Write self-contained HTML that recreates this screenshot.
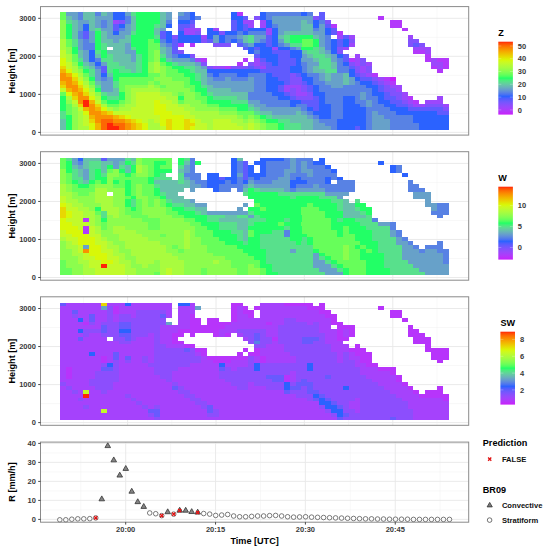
<!DOCTYPE html>
<html><head><meta charset="utf-8"><title>Figure</title>
<style>
html,body{margin:0;padding:0;background:#fff}
svg{display:block}
text{font-family:"Liberation Sans",Arial,sans-serif;font-weight:bold}
.tk{font-size:7.5px;fill:#3a3a3a}
.ti{font-size:9.1px;fill:#000}
.lg{font-size:7.6px;fill:#111}
</style></head><body>
<svg width="547" height="550" viewBox="0 0 547 550">
<rect width="547" height="550" fill="#fff"/>
<g>
<line x1="40.5" x2="468.7" y1="113.39" y2="113.39" stroke="#f0f0f0" stroke-width="0.5"/>
<line x1="40.5" x2="468.7" y1="75.36" y2="75.36" stroke="#f0f0f0" stroke-width="0.5"/>
<line x1="40.5" x2="468.7" y1="37.33" y2="37.33" stroke="#f0f0f0" stroke-width="0.5"/>
<line x1="83.40" x2="83.40" y1="6.6" y2="135.1" stroke="#f0f0f0" stroke-width="0.5"/>
<line x1="171.80" x2="171.80" y1="6.6" y2="135.1" stroke="#f0f0f0" stroke-width="0.5"/>
<line x1="260.20" x2="260.20" y1="6.6" y2="135.1" stroke="#f0f0f0" stroke-width="0.5"/>
<line x1="348.60" x2="348.60" y1="6.6" y2="135.1" stroke="#f0f0f0" stroke-width="0.5"/>
<line x1="437.00" x2="437.00" y1="6.6" y2="135.1" stroke="#f0f0f0" stroke-width="0.5"/>
<line x1="40.5" x2="468.7" y1="132.40" y2="132.40" stroke="#e8e8e8" stroke-width="0.9"/>
<line x1="40.5" x2="468.7" y1="94.37" y2="94.37" stroke="#e8e8e8" stroke-width="0.9"/>
<line x1="40.5" x2="468.7" y1="56.34" y2="56.34" stroke="#e8e8e8" stroke-width="0.9"/>
<line x1="40.5" x2="468.7" y1="18.31" y2="18.31" stroke="#e8e8e8" stroke-width="0.9"/>
<line x1="127.60" x2="127.60" y1="6.6" y2="135.1" stroke="#e8e8e8" stroke-width="0.9"/>
<line x1="216.00" x2="216.00" y1="6.6" y2="135.1" stroke="#e8e8e8" stroke-width="0.9"/>
<line x1="304.40" x2="304.40" y1="6.6" y2="135.1" stroke="#e8e8e8" stroke-width="0.9"/>
<line x1="392.80" x2="392.80" y1="6.6" y2="135.1" stroke="#e8e8e8" stroke-width="0.9"/>
<g shape-rendering="crispEdges"><path fill="#67fe5a" d="M59.84 12.40h5.89v3.85h-5.89zM59.84 16.20h5.89v3.85h-5.89zM65.73 39.00h5.89v3.85h-5.89zM148.25 39.00h5.89v3.85h-5.89zM301.49 39.00h11.79v3.85h-11.79zM65.73 42.80h5.89v3.85h-5.89zM148.25 42.80h11.79v3.85h-11.79zM301.49 42.80h11.79v3.85h-11.79zM148.25 46.60h11.79v3.85h-11.79zM148.25 50.40h5.89v3.85h-5.89zM71.63 54.20h5.89v3.85h-5.89zM148.25 54.20h5.89v3.85h-5.89zM71.63 58.00h5.89v3.85h-5.89zM148.25 58.00h5.89v3.85h-5.89zM160.04 61.80h5.89v3.85h-5.89zM77.52 65.60h5.89v3.85h-5.89zM165.93 65.60h5.89v3.85h-5.89zM165.93 69.40h11.79v3.85h-11.79zM83.42 73.20h5.89v3.85h-5.89zM148.25 73.20h11.79v3.85h-11.79zM165.93 73.20h17.68v3.85h-17.68zM118.78 77.00h35.36v3.85h-35.36zM171.83 77.00h17.68v3.85h-17.68zM89.31 80.80h5.89v3.85h-5.89zM118.78 80.80h29.47v3.85h-29.47zM154.14 80.80h5.89v3.85h-5.89zM183.61 80.80h5.89v3.85h-5.89zM118.78 84.60h5.89v3.85h-5.89zM160.04 84.60h5.89v3.85h-5.89zM183.61 84.60h11.79v3.85h-11.79zM118.78 88.40h5.89v3.85h-5.89zM189.51 88.40h5.89v3.85h-5.89zM59.84 92.20h5.89v3.85h-5.89zM177.72 92.20h5.89v3.85h-5.89zM195.40 92.20h5.89v3.85h-5.89zM195.40 96.00h11.79v3.85h-11.79zM101.10 99.80h5.89v3.85h-5.89zM118.78 99.80h5.89v3.85h-5.89zM177.72 99.80h5.89v3.85h-5.89zM201.30 99.80h5.89v3.85h-5.89zM65.73 103.60h5.89v3.85h-5.89zM106.99 103.60h11.79v3.85h-11.79zM207.19 103.60h11.79v3.85h-11.79zM65.73 107.40h5.89v3.85h-5.89zM218.98 107.40h17.68v3.85h-17.68zM65.73 111.20h5.89v3.85h-5.89zM236.66 111.20h17.68v3.85h-17.68zM242.55 115.00h5.89v3.85h-5.89zM254.34 115.00h5.89v3.85h-5.89zM260.24 118.80h5.89v3.85h-5.89zM266.13 122.60h11.79v3.85h-11.79zM266.13 126.40h11.79v3.85h-11.79z"/>
<path fill="#67a1c9" d="M65.73 12.40h11.79v3.85h-11.79zM106.99 12.40h5.89v3.85h-5.89zM124.67 12.40h5.89v3.85h-5.89zM165.93 12.40h5.89v3.85h-5.89zM177.72 12.40h5.89v3.85h-5.89zM71.63 16.20h5.89v3.85h-5.89zM95.20 16.20h17.68v3.85h-17.68zM165.93 16.20h5.89v3.85h-5.89zM272.02 16.20h41.26v3.85h-41.26zM77.52 20.00h11.79v3.85h-11.79zM95.20 20.00h5.89v3.85h-5.89zM106.99 20.00h5.89v3.85h-5.89zM272.02 20.00h29.47v3.85h-29.47zM307.39 20.00h5.89v3.85h-5.89zM77.52 23.80h5.89v3.85h-5.89zM95.20 23.80h5.89v3.85h-5.89zM106.99 23.80h5.89v3.85h-5.89zM124.67 23.80h5.89v3.85h-5.89zM277.92 23.80h23.58v3.85h-23.58zM319.18 23.80h5.89v3.85h-5.89zM77.52 27.60h5.89v3.85h-5.89zM101.10 27.60h11.79v3.85h-11.79zM124.67 27.60h5.89v3.85h-5.89zM160.04 27.60h5.89v3.85h-5.89zM277.92 27.60h23.58v3.85h-23.58zM319.18 27.60h5.89v3.85h-5.89zM89.31 31.40h5.89v3.85h-5.89zM106.99 31.40h5.89v3.85h-5.89zM118.78 31.40h11.79v3.85h-11.79zM277.92 31.40h5.89v3.85h-5.89zM313.28 31.40h11.79v3.85h-11.79zM89.31 35.20h5.89v3.85h-5.89zM106.99 35.20h17.68v3.85h-17.68zM213.08 35.20h5.89v3.85h-5.89zM236.66 35.20h5.89v3.85h-5.89zM254.34 35.20h11.79v3.85h-11.79zM319.18 35.20h5.89v3.85h-5.89zM77.52 39.00h5.89v3.85h-5.89zM89.31 39.00h5.89v3.85h-5.89zM112.89 39.00h5.89v3.85h-5.89zM213.08 39.00h5.89v3.85h-5.89zM254.34 39.00h5.89v3.85h-5.89zM277.92 39.00h5.89v3.85h-5.89zM319.18 39.00h5.89v3.85h-5.89zM77.52 42.80h5.89v3.85h-5.89zM124.67 42.80h5.89v3.85h-5.89zM160.04 42.80h5.89v3.85h-5.89zM248.45 42.80h5.89v3.85h-5.89zM283.81 42.80h5.89v3.85h-5.89zM319.18 42.80h5.89v3.85h-5.89zM77.52 46.60h5.89v3.85h-5.89zM124.67 46.60h5.89v3.85h-5.89zM165.93 46.60h5.89v3.85h-5.89zM295.60 46.60h5.89v3.85h-5.89zM83.42 50.40h5.89v3.85h-5.89zM124.67 50.40h11.79v3.85h-11.79zM165.93 50.40h5.89v3.85h-5.89zM325.07 50.40h5.89v3.85h-5.89zM83.42 54.20h5.89v3.85h-5.89zM130.57 54.20h5.89v3.85h-5.89zM165.93 54.20h5.89v3.85h-5.89zM301.49 54.20h5.89v3.85h-5.89zM330.96 54.20h5.89v3.85h-5.89zM83.42 58.00h5.89v3.85h-5.89zM130.57 58.00h5.89v3.85h-5.89zM171.83 58.00h17.68v3.85h-17.68zM301.49 58.00h11.79v3.85h-11.79zM330.96 58.00h5.89v3.85h-5.89zM89.31 61.80h5.89v3.85h-5.89zM101.10 61.80h5.89v3.85h-5.89zM195.40 61.80h5.89v3.85h-5.89zM307.39 61.80h11.79v3.85h-11.79zM201.30 65.60h5.89v3.85h-5.89zM307.39 65.60h5.89v3.85h-5.89zM95.20 69.40h5.89v3.85h-5.89zM307.39 69.40h5.89v3.85h-5.89zM95.20 73.20h5.89v3.85h-5.89zM319.18 73.20h5.89v3.85h-5.89zM330.96 73.20h11.79v3.85h-11.79zM95.20 77.00h5.89v3.85h-5.89zM106.99 77.00h5.89v3.85h-5.89zM207.19 77.00h5.89v3.85h-5.89zM224.87 77.00h5.89v3.85h-5.89zM248.45 77.00h5.89v3.85h-5.89zM319.18 77.00h5.89v3.85h-5.89zM330.96 77.00h11.79v3.85h-11.79zM348.65 77.00h5.89v3.85h-5.89zM101.10 80.80h11.79v3.85h-11.79zM207.19 80.80h47.15v3.85h-47.15zM325.07 80.80h17.68v3.85h-17.68zM348.65 80.80h5.89v3.85h-5.89zM101.10 84.60h11.79v3.85h-11.79zM213.08 84.60h41.26v3.85h-41.26zM330.96 84.60h11.79v3.85h-11.79zM101.10 88.40h11.79v3.85h-11.79zM230.77 88.40h23.58v3.85h-23.58zM360.43 92.20h5.89v3.85h-5.89zM360.43 96.00h5.89v3.85h-5.89zM248.45 99.80h11.79v3.85h-11.79zM366.33 99.80h5.89v3.85h-5.89zM254.34 103.60h11.79v3.85h-11.79zM366.33 103.60h5.89v3.85h-5.89zM260.24 107.40h41.26v3.85h-41.26zM272.02 111.20h23.58v3.85h-23.58zM301.49 111.20h5.89v3.85h-5.89zM372.22 111.20h5.89v3.85h-5.89zM307.39 115.00h5.89v3.85h-5.89zM372.22 115.00h11.79v3.85h-11.79zM313.28 118.80h5.89v3.85h-5.89zM372.22 118.80h17.68v3.85h-17.68zM313.28 122.60h11.79v3.85h-11.79zM372.22 122.60h17.68v3.85h-17.68zM313.28 126.40h17.68v3.85h-17.68zM372.22 126.40h17.68v3.85h-17.68z"/>
<path fill="#5882e4" d="M77.52 12.40h5.89v3.85h-5.89zM95.20 12.40h5.89v3.85h-5.89zM183.61 12.40h5.89v3.85h-5.89zM266.13 12.40h35.36v3.85h-35.36zM307.39 12.40h5.89v3.85h-5.89zM77.52 16.20h5.89v3.85h-5.89zM124.67 16.20h5.89v3.85h-5.89zM177.72 16.20h11.79v3.85h-11.79zM195.40 16.20h5.89v3.85h-5.89zM266.13 16.20h5.89v3.85h-5.89zM101.10 20.00h5.89v3.85h-5.89zM124.67 20.00h5.89v3.85h-5.89zM165.93 20.00h5.89v3.85h-5.89zM319.18 20.00h5.89v3.85h-5.89zM101.10 23.80h5.89v3.85h-5.89zM272.02 23.80h5.89v3.85h-5.89zM118.78 27.60h5.89v3.85h-5.89zM313.28 27.60h5.89v3.85h-5.89zM77.52 31.40h5.89v3.85h-5.89zM236.66 31.40h5.89v3.85h-5.89zM248.45 31.40h17.68v3.85h-17.68zM77.52 35.20h5.89v3.85h-5.89zM224.87 35.20h11.79v3.85h-11.79zM325.07 35.20h5.89v3.85h-5.89zM83.42 39.00h5.89v3.85h-5.89zM160.04 39.00h5.89v3.85h-5.89zM224.87 39.00h5.89v3.85h-5.89zM236.66 39.00h5.89v3.85h-5.89zM260.24 39.00h5.89v3.85h-5.89zM325.07 39.00h5.89v3.85h-5.89zM83.42 42.80h11.79v3.85h-11.79zM165.93 42.80h5.89v3.85h-5.89zM242.55 42.80h5.89v3.85h-5.89zM277.92 42.80h5.89v3.85h-5.89zM325.07 42.80h5.89v3.85h-5.89zM83.42 46.60h11.79v3.85h-11.79zM289.71 46.60h5.89v3.85h-5.89zM325.07 46.60h5.89v3.85h-5.89zM254.34 50.40h5.89v3.85h-5.89zM171.83 54.20h5.89v3.85h-5.89zM95.20 58.00h5.89v3.85h-5.89zM189.51 58.00h5.89v3.85h-5.89zM336.86 58.00h5.89v3.85h-5.89zM301.49 61.80h5.89v3.85h-5.89zM336.86 61.80h5.89v3.85h-5.89zM95.20 65.60h5.89v3.85h-5.89zM301.49 65.60h5.89v3.85h-5.89zM336.86 65.60h11.79v3.85h-11.79zM301.49 69.40h5.89v3.85h-5.89zM336.86 69.40h11.79v3.85h-11.79zM207.19 73.20h5.89v3.85h-5.89zM218.98 73.20h17.68v3.85h-17.68zM248.45 73.20h17.68v3.85h-17.68zM307.39 73.20h11.79v3.85h-11.79zM101.10 77.00h5.89v3.85h-5.89zM213.08 77.00h11.79v3.85h-11.79zM230.77 77.00h17.68v3.85h-17.68zM254.34 77.00h11.79v3.85h-11.79zM313.28 77.00h5.89v3.85h-5.89zM254.34 80.80h11.79v3.85h-11.79zM313.28 80.80h11.79v3.85h-11.79zM354.54 80.80h5.89v3.85h-5.89zM254.34 84.60h11.79v3.85h-11.79zM319.18 84.60h11.79v3.85h-11.79zM342.75 84.60h23.58v3.85h-23.58zM254.34 88.40h11.79v3.85h-11.79zM319.18 88.40h53.05v3.85h-53.05zM248.45 92.20h23.58v3.85h-23.58zM325.07 92.20h35.36v3.85h-35.36zM366.33 92.20h5.89v3.85h-5.89zM248.45 96.00h29.47v3.85h-29.47zM325.07 96.00h17.68v3.85h-17.68zM354.54 96.00h5.89v3.85h-5.89zM366.33 96.00h11.79v3.85h-11.79zM260.24 99.80h29.47v3.85h-29.47zM325.07 99.80h17.68v3.85h-17.68zM354.54 99.80h11.79v3.85h-11.79zM372.22 99.80h5.89v3.85h-5.89zM266.13 103.60h23.58v3.85h-23.58zM295.60 103.60h11.79v3.85h-11.79zM330.96 103.60h11.79v3.85h-11.79zM360.43 103.60h5.89v3.85h-5.89zM372.22 103.60h11.79v3.85h-11.79zM301.49 107.40h5.89v3.85h-5.89zM330.96 107.40h11.79v3.85h-11.79zM366.33 107.40h23.58v3.85h-23.58zM307.39 111.20h5.89v3.85h-5.89zM330.96 111.20h11.79v3.85h-11.79zM366.33 111.20h5.89v3.85h-5.89zM378.12 111.20h17.68v3.85h-17.68zM313.28 115.00h5.89v3.85h-5.89zM330.96 115.00h11.79v3.85h-11.79zM366.33 115.00h5.89v3.85h-5.89zM384.01 115.00h29.47v3.85h-29.47zM319.18 118.80h17.68v3.85h-17.68zM366.33 118.80h5.89v3.85h-5.89zM389.90 118.80h23.58v3.85h-23.58zM325.07 122.60h11.79v3.85h-11.79zM366.33 122.60h5.89v3.85h-5.89zM389.90 122.60h29.47v3.85h-29.47zM330.96 126.40h5.89v3.85h-5.89zM366.33 126.40h5.89v3.85h-5.89zM389.90 126.40h29.47v3.85h-29.47z"/>
<path fill="#68c0ac" d="M83.42 12.40h11.79v3.85h-11.79zM101.10 12.40h5.89v3.85h-5.89zM160.04 12.40h5.89v3.85h-5.89zM65.73 16.20h5.89v3.85h-5.89zM83.42 16.20h11.79v3.85h-11.79zM130.57 16.20h5.89v3.85h-5.89zM160.04 16.20h5.89v3.85h-5.89zM71.63 20.00h5.89v3.85h-5.89zM89.31 20.00h5.89v3.85h-5.89zM130.57 20.00h5.89v3.85h-5.89zM160.04 20.00h5.89v3.85h-5.89zM301.49 20.00h5.89v3.85h-5.89zM71.63 23.80h5.89v3.85h-5.89zM89.31 23.80h5.89v3.85h-5.89zM130.57 23.80h5.89v3.85h-5.89zM160.04 23.80h5.89v3.85h-5.89zM301.49 23.80h11.79v3.85h-11.79zM71.63 27.60h5.89v3.85h-5.89zM89.31 27.60h5.89v3.85h-5.89zM130.57 27.60h5.89v3.85h-5.89zM154.14 27.60h5.89v3.85h-5.89zM301.49 27.60h11.79v3.85h-11.79zM71.63 31.40h5.89v3.85h-5.89zM101.10 31.40h5.89v3.85h-5.89zM154.14 31.40h5.89v3.85h-5.89zM283.81 31.40h29.47v3.85h-29.47zM71.63 35.20h5.89v3.85h-5.89zM101.10 35.20h5.89v3.85h-5.89zM124.67 35.20h5.89v3.85h-5.89zM242.55 35.20h5.89v3.85h-5.89zM277.92 35.20h5.89v3.85h-5.89zM313.28 35.20h5.89v3.85h-5.89zM101.10 39.00h11.79v3.85h-11.79zM118.78 39.00h11.79v3.85h-11.79zM242.55 39.00h5.89v3.85h-5.89zM106.99 42.80h17.68v3.85h-17.68zM112.89 46.60h11.79v3.85h-11.79zM160.04 46.60h5.89v3.85h-5.89zM319.18 46.60h5.89v3.85h-5.89zM77.52 50.40h5.89v3.85h-5.89zM106.99 50.40h17.68v3.85h-17.68zM160.04 50.40h5.89v3.85h-5.89zM301.49 50.40h5.89v3.85h-5.89zM319.18 50.40h5.89v3.85h-5.89zM77.52 54.20h5.89v3.85h-5.89zM95.20 54.20h5.89v3.85h-5.89zM112.89 54.20h17.68v3.85h-17.68zM307.39 54.20h5.89v3.85h-5.89zM325.07 54.20h5.89v3.85h-5.89zM112.89 58.00h17.68v3.85h-17.68zM165.93 58.00h5.89v3.85h-5.89zM313.28 58.00h5.89v3.85h-5.89zM83.42 61.80h5.89v3.85h-5.89zM118.78 61.80h17.68v3.85h-17.68zM177.72 61.80h17.68v3.85h-17.68zM330.96 61.80h5.89v3.85h-5.89zM89.31 65.60h5.89v3.85h-5.89zM124.67 65.60h11.79v3.85h-11.79zM195.40 65.60h5.89v3.85h-5.89zM313.28 65.60h5.89v3.85h-5.89zM330.96 65.60h5.89v3.85h-5.89zM130.57 69.40h5.89v3.85h-5.89zM195.40 69.40h11.79v3.85h-11.79zM313.28 69.40h11.79v3.85h-11.79zM106.99 73.20h5.89v3.85h-5.89zM201.30 73.20h5.89v3.85h-5.89zM325.07 73.20h5.89v3.85h-5.89zM342.75 73.20h5.89v3.85h-5.89zM201.30 77.00h5.89v3.85h-5.89zM325.07 77.00h5.89v3.85h-5.89zM342.75 77.00h5.89v3.85h-5.89zM95.20 80.80h5.89v3.85h-5.89zM201.30 80.80h5.89v3.85h-5.89zM342.75 80.80h5.89v3.85h-5.89zM207.19 84.60h5.89v3.85h-5.89zM112.89 88.40h5.89v3.85h-5.89zM207.19 88.40h23.58v3.85h-23.58zM106.99 92.20h11.79v3.85h-11.79zM213.08 92.20h35.36v3.85h-35.36zM236.66 96.00h11.79v3.85h-11.79zM248.45 103.60h5.89v3.85h-5.89zM254.34 107.40h5.89v3.85h-5.89zM260.24 111.20h11.79v3.85h-11.79zM295.60 111.20h5.89v3.85h-5.89zM272.02 115.00h35.36v3.85h-35.36zM59.84 118.80h5.89v3.85h-5.89zM289.71 118.80h23.58v3.85h-23.58zM59.84 122.60h5.89v3.85h-5.89zM301.49 122.60h11.79v3.85h-11.79zM59.84 126.40h5.89v3.85h-5.89zM301.49 126.40h11.79v3.85h-11.79z"/>
<path fill="#2b62ff" d="M112.89 12.40h11.79v3.85h-11.79zM189.51 12.40h5.89v3.85h-5.89zM230.77 12.40h5.89v3.85h-5.89zM260.24 12.40h5.89v3.85h-5.89zM301.49 12.40h5.89v3.85h-5.89zM112.89 16.20h11.79v3.85h-11.79zM189.51 16.20h5.89v3.85h-5.89zM230.77 16.20h11.79v3.85h-11.79zM260.24 16.20h5.89v3.85h-5.89zM177.72 20.00h11.79v3.85h-11.79zM236.66 20.00h5.89v3.85h-5.89zM266.13 20.00h5.89v3.85h-5.89zM313.28 20.00h5.89v3.85h-5.89zM83.42 23.80h5.89v3.85h-5.89zM118.78 23.80h5.89v3.85h-5.89zM165.93 23.80h5.89v3.85h-5.89zM236.66 23.80h5.89v3.85h-5.89zM266.13 23.80h5.89v3.85h-5.89zM313.28 23.80h5.89v3.85h-5.89zM83.42 27.60h5.89v3.85h-5.89zM207.19 27.60h5.89v3.85h-5.89zM236.66 27.60h5.89v3.85h-5.89zM248.45 27.60h17.68v3.85h-17.68zM272.02 27.60h5.89v3.85h-5.89zM325.07 27.60h5.89v3.85h-5.89zM112.89 31.40h5.89v3.85h-5.89zM165.93 31.40h5.89v3.85h-5.89zM177.72 31.40h5.89v3.85h-5.89zM207.19 31.40h11.79v3.85h-11.79zM224.87 31.40h11.79v3.85h-11.79zM242.55 31.40h5.89v3.85h-5.89zM272.02 31.40h5.89v3.85h-5.89zM325.07 31.40h5.89v3.85h-5.89zM165.93 35.20h5.89v3.85h-5.89zM177.72 35.20h23.58v3.85h-23.58zM207.19 35.20h5.89v3.85h-5.89zM218.98 35.20h5.89v3.85h-5.89zM272.02 35.20h5.89v3.85h-5.89zM165.93 39.00h5.89v3.85h-5.89zM177.72 39.00h23.58v3.85h-23.58zM218.98 39.00h5.89v3.85h-5.89zM230.77 39.00h5.89v3.85h-5.89zM272.02 39.00h5.89v3.85h-5.89zM330.96 39.00h5.89v3.85h-5.89zM342.75 39.00h5.89v3.85h-5.89zM254.34 42.80h11.79v3.85h-11.79zM272.02 42.80h5.89v3.85h-5.89zM330.96 42.80h5.89v3.85h-5.89zM342.75 42.80h5.89v3.85h-5.89zM248.45 46.60h5.89v3.85h-5.89zM260.24 46.60h11.79v3.85h-11.79zM277.92 46.60h11.79v3.85h-11.79zM330.96 46.60h5.89v3.85h-5.89zM89.31 50.40h5.89v3.85h-5.89zM248.45 50.40h5.89v3.85h-5.89zM260.24 50.40h11.79v3.85h-11.79zM289.71 50.40h11.79v3.85h-11.79zM330.96 50.40h5.89v3.85h-5.89zM89.31 54.20h5.89v3.85h-5.89zM177.72 54.20h11.79v3.85h-11.79zM260.24 54.20h17.68v3.85h-17.68zM289.71 54.20h11.79v3.85h-11.79zM336.86 54.20h5.89v3.85h-5.89zM89.31 58.00h5.89v3.85h-5.89zM266.13 58.00h11.79v3.85h-11.79zM295.60 58.00h5.89v3.85h-5.89zM95.20 61.80h5.89v3.85h-5.89zM272.02 61.80h5.89v3.85h-5.89zM295.60 61.80h5.89v3.85h-5.89zM342.75 61.80h5.89v3.85h-5.89zM289.71 65.60h11.79v3.85h-11.79zM207.19 69.40h53.05v3.85h-53.05zM289.71 69.40h11.79v3.85h-11.79zM348.65 69.40h5.89v3.85h-5.89zM101.10 73.20h5.89v3.85h-5.89zM213.08 73.20h5.89v3.85h-5.89zM236.66 73.20h11.79v3.85h-11.79zM266.13 73.20h5.89v3.85h-5.89zM301.49 73.20h5.89v3.85h-5.89zM348.65 73.20h5.89v3.85h-5.89zM266.13 77.00h11.79v3.85h-11.79zM301.49 77.00h11.79v3.85h-11.79zM354.54 77.00h5.89v3.85h-5.89zM266.13 80.80h17.68v3.85h-17.68zM307.39 80.80h5.89v3.85h-5.89zM360.43 80.80h11.79v3.85h-11.79zM266.13 84.60h11.79v3.85h-11.79zM313.28 84.60h5.89v3.85h-5.89zM366.33 84.60h11.79v3.85h-11.79zM266.13 88.40h11.79v3.85h-11.79zM313.28 88.40h5.89v3.85h-5.89zM372.22 88.40h5.89v3.85h-5.89zM272.02 92.20h11.79v3.85h-11.79zM313.28 92.20h11.79v3.85h-11.79zM372.22 92.20h11.79v3.85h-11.79zM277.92 96.00h11.79v3.85h-11.79zM319.18 96.00h5.89v3.85h-5.89zM342.75 96.00h11.79v3.85h-11.79zM378.12 96.00h5.89v3.85h-5.89zM289.71 99.80h11.79v3.85h-11.79zM319.18 99.80h5.89v3.85h-5.89zM342.75 99.80h11.79v3.85h-11.79zM378.12 99.80h11.79v3.85h-11.79zM289.71 103.60h5.89v3.85h-5.89zM319.18 103.60h11.79v3.85h-11.79zM342.75 103.60h17.68v3.85h-17.68zM384.01 103.60h11.79v3.85h-11.79zM307.39 107.40h5.89v3.85h-5.89zM319.18 107.40h11.79v3.85h-11.79zM342.75 107.40h23.58v3.85h-23.58zM389.90 107.40h17.68v3.85h-17.68zM313.28 111.20h17.68v3.85h-17.68zM342.75 111.20h23.58v3.85h-23.58zM395.80 111.20h41.26v3.85h-41.26zM319.18 115.00h11.79v3.85h-11.79zM342.75 115.00h23.58v3.85h-23.58zM413.48 115.00h35.36v3.85h-35.36zM336.86 118.80h29.47v3.85h-29.47zM413.48 118.80h35.36v3.85h-35.36zM336.86 122.60h29.47v3.85h-29.47zM419.37 122.60h29.47v3.85h-29.47zM336.86 126.40h17.68v3.85h-17.68zM360.43 126.40h5.89v3.85h-5.89zM419.37 126.40h29.47v3.85h-29.47z"/>
<path fill="#58e08c" d="M130.57 12.40h5.89v3.85h-5.89zM65.73 20.00h5.89v3.85h-5.89zM154.14 23.80h5.89v3.85h-5.89zM95.20 27.60h5.89v3.85h-5.89zM130.57 31.40h5.89v3.85h-5.89zM154.14 35.20h5.89v3.85h-5.89zM248.45 35.20h5.89v3.85h-5.89zM283.81 35.20h5.89v3.85h-5.89zM71.63 39.00h5.89v3.85h-5.89zM248.45 39.00h5.89v3.85h-5.89zM283.81 39.00h5.89v3.85h-5.89zM71.63 42.80h5.89v3.85h-5.89zM101.10 42.80h5.89v3.85h-5.89zM289.71 42.80h11.79v3.85h-11.79zM101.10 46.60h5.89v3.85h-5.89zM130.57 46.60h5.89v3.85h-5.89zM313.28 46.60h5.89v3.85h-5.89zM95.20 50.40h5.89v3.85h-5.89zM307.39 50.40h11.79v3.85h-11.79zM106.99 54.20h5.89v3.85h-5.89zM136.46 54.20h5.89v3.85h-5.89zM160.04 54.20h5.89v3.85h-5.89zM313.28 54.20h11.79v3.85h-11.79zM77.52 58.00h5.89v3.85h-5.89zM101.10 58.00h11.79v3.85h-11.79zM136.46 58.00h5.89v3.85h-5.89zM319.18 58.00h11.79v3.85h-11.79zM106.99 61.80h11.79v3.85h-11.79zM136.46 61.80h5.89v3.85h-5.89zM171.83 61.80h5.89v3.85h-5.89zM319.18 61.80h11.79v3.85h-11.79zM83.42 65.60h5.89v3.85h-5.89zM106.99 65.60h17.68v3.85h-17.68zM136.46 65.60h5.89v3.85h-5.89zM183.61 65.60h11.79v3.85h-11.79zM319.18 65.60h11.79v3.85h-11.79zM89.31 69.40h5.89v3.85h-5.89zM106.99 69.40h5.89v3.85h-5.89zM118.78 69.40h11.79v3.85h-11.79zM136.46 69.40h5.89v3.85h-5.89zM189.51 69.40h5.89v3.85h-5.89zM325.07 69.40h11.79v3.85h-11.79zM89.31 73.20h5.89v3.85h-5.89zM195.40 73.20h5.89v3.85h-5.89zM195.40 77.00h5.89v3.85h-5.89zM112.89 80.80h5.89v3.85h-5.89zM95.20 84.60h5.89v3.85h-5.89zM112.89 84.60h5.89v3.85h-5.89zM201.30 84.60h5.89v3.85h-5.89zM101.10 92.20h5.89v3.85h-5.89zM207.19 92.20h5.89v3.85h-5.89zM106.99 96.00h11.79v3.85h-11.79zM213.08 96.00h23.58v3.85h-23.58zM230.77 99.80h17.68v3.85h-17.68zM248.45 107.40h5.89v3.85h-5.89zM59.84 111.20h5.89v3.85h-5.89zM254.34 111.20h5.89v3.85h-5.89zM59.84 115.00h5.89v3.85h-5.89zM266.13 115.00h5.89v3.85h-5.89zM277.92 118.80h11.79v3.85h-11.79zM283.81 122.60h17.68v3.85h-17.68zM283.81 126.40h17.68v3.85h-17.68z"/>
<path fill="#22ff66" d="M136.46 12.40h23.58v3.85h-23.58zM136.46 16.20h23.58v3.85h-23.58zM136.46 20.00h23.58v3.85h-23.58zM65.73 23.80h5.89v3.85h-5.89zM136.46 23.80h17.68v3.85h-17.68zM65.73 27.60h5.89v3.85h-5.89zM136.46 27.60h17.68v3.85h-17.68zM65.73 31.40h5.89v3.85h-5.89zM95.20 31.40h5.89v3.85h-5.89zM136.46 31.40h17.68v3.85h-17.68zM65.73 35.20h5.89v3.85h-5.89zM95.20 35.20h5.89v3.85h-5.89zM130.57 35.20h23.58v3.85h-23.58zM289.71 35.20h23.58v3.85h-23.58zM95.20 39.00h5.89v3.85h-5.89zM130.57 39.00h17.68v3.85h-17.68zM154.14 39.00h5.89v3.85h-5.89zM289.71 39.00h11.79v3.85h-11.79zM313.28 39.00h5.89v3.85h-5.89zM95.20 42.80h5.89v3.85h-5.89zM130.57 42.80h17.68v3.85h-17.68zM313.28 42.80h5.89v3.85h-5.89zM71.63 46.60h5.89v3.85h-5.89zM95.20 46.60h5.89v3.85h-5.89zM136.46 46.60h11.79v3.85h-11.79zM301.49 46.60h11.79v3.85h-11.79zM71.63 50.40h5.89v3.85h-5.89zM101.10 50.40h5.89v3.85h-5.89zM136.46 50.40h11.79v3.85h-11.79zM101.10 54.20h5.89v3.85h-5.89zM142.36 54.20h5.89v3.85h-5.89zM142.36 58.00h5.89v3.85h-5.89zM160.04 58.00h5.89v3.85h-5.89zM77.52 61.80h5.89v3.85h-5.89zM142.36 61.80h5.89v3.85h-5.89zM165.93 61.80h5.89v3.85h-5.89zM142.36 65.60h5.89v3.85h-5.89zM171.83 65.60h11.79v3.85h-11.79zM83.42 69.40h5.89v3.85h-5.89zM112.89 69.40h5.89v3.85h-5.89zM142.36 69.40h5.89v3.85h-5.89zM177.72 69.40h11.79v3.85h-11.79zM112.89 73.20h35.36v3.85h-35.36zM183.61 73.20h11.79v3.85h-11.79zM89.31 77.00h5.89v3.85h-5.89zM112.89 77.00h5.89v3.85h-5.89zM189.51 77.00h5.89v3.85h-5.89zM189.51 80.80h11.79v3.85h-11.79zM195.40 84.60h5.89v3.85h-5.89zM95.20 88.40h5.89v3.85h-5.89zM195.40 88.40h11.79v3.85h-11.79zM118.78 92.20h5.89v3.85h-5.89zM201.30 92.20h5.89v3.85h-5.89zM59.84 96.00h5.89v3.85h-5.89zM101.10 96.00h5.89v3.85h-5.89zM118.78 96.00h5.89v3.85h-5.89zM177.72 96.00h5.89v3.85h-5.89zM207.19 96.00h5.89v3.85h-5.89zM59.84 99.80h5.89v3.85h-5.89zM106.99 99.80h11.79v3.85h-11.79zM207.19 99.80h23.58v3.85h-23.58zM59.84 103.60h5.89v3.85h-5.89zM218.98 103.60h29.47v3.85h-29.47zM59.84 107.40h5.89v3.85h-5.89zM236.66 107.40h11.79v3.85h-11.79zM65.73 115.00h5.89v3.85h-5.89zM260.24 115.00h5.89v3.85h-5.89zM65.73 118.80h5.89v3.85h-5.89zM266.13 118.80h11.79v3.85h-11.79zM65.73 122.60h5.89v3.85h-5.89zM277.92 122.60h5.89v3.85h-5.89zM65.73 126.40h5.89v3.85h-5.89zM277.92 126.40h5.89v3.85h-5.89z"/>
<path fill="#b338fb" d="M236.66 12.40h5.89v3.85h-5.89zM378.12 16.20h5.89v3.85h-5.89zM389.90 20.00h11.79v3.85h-11.79zM330.96 23.80h5.89v3.85h-5.89zM389.90 23.80h11.79v3.85h-11.79zM401.69 27.60h5.89v3.85h-5.89zM336.86 31.40h5.89v3.85h-5.89zM177.72 42.80h5.89v3.85h-5.89zM189.51 42.80h5.89v3.85h-5.89zM413.48 50.40h11.79v3.85h-11.79zM425.27 54.20h5.89v3.85h-5.89zM201.30 58.00h5.89v3.85h-5.89zM242.55 58.00h5.89v3.85h-5.89zM348.65 58.00h5.89v3.85h-5.89zM425.27 58.00h5.89v3.85h-5.89zM437.06 58.00h11.79v3.85h-11.79zM236.66 61.80h5.89v3.85h-5.89zM442.95 61.80h5.89v3.85h-5.89zM224.87 65.60h5.89v3.85h-5.89zM431.16 65.60h5.89v3.85h-5.89zM442.95 65.60h5.89v3.85h-5.89zM437.06 69.40h5.89v3.85h-5.89zM372.22 73.20h5.89v3.85h-5.89zM384.01 77.00h5.89v3.85h-5.89zM389.90 80.80h5.89v3.85h-5.89zM407.59 96.00h5.89v3.85h-5.89zM413.48 99.80h5.89v3.85h-5.89z"/>
<path fill="#605bfe" d="M319.18 12.40h5.89v3.85h-5.89zM242.55 16.20h5.89v3.85h-5.89zM319.18 16.20h5.89v3.85h-5.89zM189.51 20.00h5.89v3.85h-5.89zM230.77 20.00h5.89v3.85h-5.89zM112.89 23.80h5.89v3.85h-5.89zM177.72 23.80h11.79v3.85h-11.79zM230.77 23.80h5.89v3.85h-5.89zM242.55 23.80h5.89v3.85h-5.89zM325.07 23.80h5.89v3.85h-5.89zM112.89 27.60h5.89v3.85h-5.89zM177.72 27.60h5.89v3.85h-5.89zM230.77 27.60h5.89v3.85h-5.89zM242.55 27.60h5.89v3.85h-5.89zM330.96 27.60h5.89v3.85h-5.89zM83.42 31.40h5.89v3.85h-5.89zM160.04 31.40h5.89v3.85h-5.89zM330.96 31.40h5.89v3.85h-5.89zM83.42 35.20h5.89v3.85h-5.89zM160.04 35.20h5.89v3.85h-5.89zM266.13 35.20h5.89v3.85h-5.89zM342.75 35.20h5.89v3.85h-5.89zM171.83 39.00h5.89v3.85h-5.89zM207.19 39.00h5.89v3.85h-5.89zM266.13 39.00h5.89v3.85h-5.89zM336.86 39.00h5.89v3.85h-5.89zM171.83 42.80h5.89v3.85h-5.89zM236.66 42.80h5.89v3.85h-5.89zM266.13 42.80h5.89v3.85h-5.89zM336.86 42.80h5.89v3.85h-5.89zM413.48 42.80h5.89v3.85h-5.89zM171.83 46.60h5.89v3.85h-5.89zM242.55 46.60h5.89v3.85h-5.89zM254.34 46.60h5.89v3.85h-5.89zM171.83 50.40h5.89v3.85h-5.89zM272.02 50.40h17.68v3.85h-17.68zM254.34 54.20h5.89v3.85h-5.89zM277.92 54.20h11.79v3.85h-11.79zM342.75 54.20h5.89v3.85h-5.89zM260.24 58.00h5.89v3.85h-5.89zM277.92 58.00h17.68v3.85h-17.68zM342.75 58.00h5.89v3.85h-5.89zM266.13 61.80h5.89v3.85h-5.89zM277.92 61.80h17.68v3.85h-17.68zM101.10 65.60h5.89v3.85h-5.89zM248.45 65.60h5.89v3.85h-5.89zM266.13 65.60h23.58v3.85h-23.58zM348.65 65.60h5.89v3.85h-5.89zM101.10 69.40h5.89v3.85h-5.89zM260.24 69.40h29.47v3.85h-29.47zM272.02 73.20h17.68v3.85h-17.68zM295.60 73.20h5.89v3.85h-5.89zM354.54 73.20h5.89v3.85h-5.89zM277.92 77.00h11.79v3.85h-11.79zM360.43 77.00h11.79v3.85h-11.79zM283.81 80.80h5.89v3.85h-5.89zM301.49 80.80h5.89v3.85h-5.89zM372.22 80.80h5.89v3.85h-5.89zM277.92 84.60h5.89v3.85h-5.89zM307.39 84.60h5.89v3.85h-5.89zM378.12 84.60h5.89v3.85h-5.89zM277.92 88.40h5.89v3.85h-5.89zM307.39 88.40h5.89v3.85h-5.89zM378.12 88.40h5.89v3.85h-5.89zM283.81 92.20h5.89v3.85h-5.89zM384.01 92.20h5.89v3.85h-5.89zM289.71 96.00h5.89v3.85h-5.89zM313.28 96.00h5.89v3.85h-5.89zM384.01 96.00h11.79v3.85h-11.79zM301.49 99.80h17.68v3.85h-17.68zM389.90 99.80h11.79v3.85h-11.79zM307.39 103.60h11.79v3.85h-11.79zM395.80 103.60h11.79v3.85h-11.79zM313.28 107.40h5.89v3.85h-5.89zM407.59 107.40h35.36v3.85h-35.36zM437.06 111.20h11.79v3.85h-11.79zM354.54 126.40h5.89v3.85h-5.89z"/>
<path fill="#8152fd" d="M254.34 16.20h5.89v3.85h-5.89zM313.28 16.20h5.89v3.85h-5.89zM118.78 20.00h5.89v3.85h-5.89zM325.07 20.00h5.89v3.85h-5.89zM189.51 23.80h5.89v3.85h-5.89zM195.40 31.40h5.89v3.85h-5.89zM218.98 31.40h5.89v3.85h-5.89zM171.83 35.20h5.89v3.85h-5.89zM201.30 39.00h5.89v3.85h-5.89zM348.65 39.00h5.89v3.85h-5.89zM407.59 39.00h11.79v3.85h-11.79zM213.08 42.80h17.68v3.85h-17.68zM407.59 42.80h5.89v3.85h-5.89zM419.37 42.80h5.89v3.85h-5.89zM336.86 46.60h5.89v3.85h-5.89zM177.72 50.40h5.89v3.85h-5.89zM336.86 50.40h5.89v3.85h-5.89zM189.51 54.20h5.89v3.85h-5.89zM360.43 58.00h5.89v3.85h-5.89zM201.30 61.80h5.89v3.85h-5.89zM248.45 61.80h5.89v3.85h-5.89zM260.24 61.80h5.89v3.85h-5.89zM348.65 61.80h5.89v3.85h-5.89zM360.43 61.80h5.89v3.85h-5.89zM207.19 65.60h5.89v3.85h-5.89zM230.77 65.60h17.68v3.85h-17.68zM254.34 65.60h5.89v3.85h-5.89zM354.54 65.60h5.89v3.85h-5.89zM366.33 65.60h5.89v3.85h-5.89zM354.54 69.40h5.89v3.85h-5.89zM366.33 69.40h5.89v3.85h-5.89zM289.71 73.20h5.89v3.85h-5.89zM360.43 73.20h5.89v3.85h-5.89zM289.71 77.00h11.79v3.85h-11.79zM372.22 77.00h5.89v3.85h-5.89zM289.71 80.80h11.79v3.85h-11.79zM378.12 80.80h5.89v3.85h-5.89zM301.49 84.60h5.89v3.85h-5.89zM384.01 84.60h5.89v3.85h-5.89zM289.71 88.40h5.89v3.85h-5.89zM301.49 88.40h5.89v3.85h-5.89zM384.01 88.40h11.79v3.85h-11.79zM289.71 92.20h5.89v3.85h-5.89zM307.39 92.20h5.89v3.85h-5.89zM389.90 92.20h11.79v3.85h-11.79zM295.60 96.00h17.68v3.85h-17.68zM395.80 96.00h5.89v3.85h-5.89zM401.69 99.80h5.89v3.85h-5.89zM407.59 103.60h5.89v3.85h-5.89zM425.27 103.60h17.68v3.85h-17.68zM442.95 107.40h5.89v3.85h-5.89z"/>
<path fill="#8cfd4d" d="M59.84 20.00h5.89v3.85h-5.89zM59.84 23.80h5.89v3.85h-5.89zM59.84 27.60h5.89v3.85h-5.89zM59.84 31.40h5.89v3.85h-5.89zM59.84 35.20h5.89v3.85h-5.89zM65.73 46.60h5.89v3.85h-5.89zM65.73 50.40h5.89v3.85h-5.89zM154.14 50.40h5.89v3.85h-5.89zM154.14 54.20h5.89v3.85h-5.89zM154.14 58.00h5.89v3.85h-5.89zM71.63 61.80h5.89v3.85h-5.89zM148.25 61.80h5.89v3.85h-5.89zM148.25 65.60h5.89v3.85h-5.89zM160.04 65.60h5.89v3.85h-5.89zM77.52 69.40h5.89v3.85h-5.89zM148.25 69.40h5.89v3.85h-5.89zM160.04 69.40h5.89v3.85h-5.89zM160.04 73.20h5.89v3.85h-5.89zM83.42 77.00h5.89v3.85h-5.89zM154.14 77.00h17.68v3.85h-17.68zM148.25 80.80h5.89v3.85h-5.89zM160.04 80.80h23.58v3.85h-23.58zM89.31 84.60h5.89v3.85h-5.89zM124.67 84.60h23.58v3.85h-23.58zM154.14 84.60h5.89v3.85h-5.89zM165.93 84.60h17.68v3.85h-17.68zM124.67 88.40h5.89v3.85h-5.89zM160.04 88.40h29.47v3.85h-29.47zM95.20 92.20h5.89v3.85h-5.89zM124.67 92.20h5.89v3.85h-5.89zM171.83 92.20h5.89v3.85h-5.89zM183.61 92.20h11.79v3.85h-11.79zM124.67 96.00h5.89v3.85h-5.89zM183.61 96.00h11.79v3.85h-11.79zM65.73 99.80h5.89v3.85h-5.89zM124.67 99.80h5.89v3.85h-5.89zM183.61 99.80h17.68v3.85h-17.68zM118.78 103.60h5.89v3.85h-5.89zM189.51 103.60h17.68v3.85h-17.68zM71.63 107.40h5.89v3.85h-5.89zM112.89 107.40h5.89v3.85h-5.89zM195.40 107.40h23.58v3.85h-23.58zM71.63 111.20h5.89v3.85h-5.89zM218.98 111.20h17.68v3.85h-17.68zM71.63 115.00h5.89v3.85h-5.89zM236.66 115.00h5.89v3.85h-5.89zM248.45 115.00h5.89v3.85h-5.89zM71.63 118.80h5.89v3.85h-5.89zM242.55 118.80h5.89v3.85h-5.89zM254.34 118.80h5.89v3.85h-5.89zM71.63 122.60h5.89v3.85h-5.89zM260.24 122.60h5.89v3.85h-5.89zM71.63 126.40h5.89v3.85h-5.89zM260.24 126.40h5.89v3.85h-5.89z"/>
<path fill="#9c47fc" d="M112.89 20.00h5.89v3.85h-5.89zM242.55 20.00h11.79v3.85h-11.79zM260.24 20.00h5.89v3.85h-5.89zM248.45 23.80h5.89v3.85h-5.89zM260.24 23.80h5.89v3.85h-5.89zM183.61 27.60h17.68v3.85h-17.68zM213.08 27.60h5.89v3.85h-5.89zM266.13 27.60h5.89v3.85h-5.89zM183.61 31.40h11.79v3.85h-11.79zM266.13 31.40h5.89v3.85h-5.89zM201.30 35.20h5.89v3.85h-5.89zM336.86 35.20h5.89v3.85h-5.89zM348.65 35.20h5.89v3.85h-5.89zM407.59 35.20h5.89v3.85h-5.89zM348.65 42.80h5.89v3.85h-5.89zM272.02 46.60h5.89v3.85h-5.89zM342.75 46.60h5.89v3.85h-5.89zM413.48 46.60h17.68v3.85h-17.68zM425.27 50.40h5.89v3.85h-5.89zM354.54 54.20h5.89v3.85h-5.89zM195.40 58.00h5.89v3.85h-5.89zM254.34 58.00h5.89v3.85h-5.89zM354.54 58.00h5.89v3.85h-5.89zM431.16 58.00h5.89v3.85h-5.89zM254.34 61.80h5.89v3.85h-5.89zM354.54 61.80h5.89v3.85h-5.89zM366.33 61.80h5.89v3.85h-5.89zM431.16 61.80h11.79v3.85h-11.79zM213.08 65.60h11.79v3.85h-11.79zM260.24 65.60h5.89v3.85h-5.89zM360.43 65.60h5.89v3.85h-5.89zM437.06 65.60h5.89v3.85h-5.89zM360.43 69.40h5.89v3.85h-5.89zM366.33 73.20h5.89v3.85h-5.89zM378.12 77.00h5.89v3.85h-5.89zM384.01 80.80h5.89v3.85h-5.89zM283.81 84.60h17.68v3.85h-17.68zM389.90 84.60h11.79v3.85h-11.79zM283.81 88.40h5.89v3.85h-5.89zM295.60 88.40h5.89v3.85h-5.89zM395.80 88.40h5.89v3.85h-5.89zM295.60 92.20h11.79v3.85h-11.79zM401.69 92.20h5.89v3.85h-5.89zM401.69 96.00h5.89v3.85h-5.89zM437.06 96.00h5.89v3.85h-5.89zM407.59 99.80h5.89v3.85h-5.89zM425.27 99.80h17.68v3.85h-17.68zM413.48 103.60h11.79v3.85h-11.79zM442.95 103.60h5.89v3.85h-5.89z"/>
<path fill="#a9fc3e" d="M59.84 39.00h5.89v3.85h-5.89zM59.84 42.80h5.89v3.85h-5.89zM59.84 46.60h5.89v3.85h-5.89zM65.73 54.20h5.89v3.85h-5.89zM65.73 58.00h5.89v3.85h-5.89zM154.14 61.80h5.89v3.85h-5.89zM71.63 65.60h5.89v3.85h-5.89zM154.14 65.60h5.89v3.85h-5.89zM71.63 69.40h5.89v3.85h-5.89zM154.14 69.40h5.89v3.85h-5.89zM77.52 73.20h5.89v3.85h-5.89zM83.42 80.80h5.89v3.85h-5.89zM148.25 84.60h5.89v3.85h-5.89zM89.31 88.40h5.89v3.85h-5.89zM130.57 88.40h29.47v3.85h-29.47zM130.57 92.20h5.89v3.85h-5.89zM160.04 92.20h11.79v3.85h-11.79zM65.73 96.00h5.89v3.85h-5.89zM95.20 96.00h5.89v3.85h-5.89zM130.57 96.00h5.89v3.85h-5.89zM165.93 96.00h11.79v3.85h-11.79zM130.57 99.80h5.89v3.85h-5.89zM171.83 99.80h5.89v3.85h-5.89zM71.63 103.60h5.89v3.85h-5.89zM101.10 103.60h5.89v3.85h-5.89zM124.67 103.60h11.79v3.85h-11.79zM177.72 103.60h11.79v3.85h-11.79zM106.99 107.40h5.89v3.85h-5.89zM118.78 107.40h11.79v3.85h-11.79zM183.61 107.40h11.79v3.85h-11.79zM77.52 111.20h5.89v3.85h-5.89zM189.51 111.20h29.47v3.85h-29.47zM77.52 115.00h5.89v3.85h-5.89zM195.40 115.00h41.26v3.85h-41.26zM77.52 118.80h5.89v3.85h-5.89zM148.25 118.80h5.89v3.85h-5.89zM201.30 118.80h11.79v3.85h-11.79zM230.77 118.80h11.79v3.85h-11.79zM248.45 118.80h5.89v3.85h-5.89zM77.52 122.60h5.89v3.85h-5.89zM148.25 122.60h11.79v3.85h-11.79zM207.19 122.60h5.89v3.85h-5.89zM236.66 122.60h11.79v3.85h-11.79zM254.34 122.60h5.89v3.85h-5.89zM77.52 126.40h11.79v3.85h-11.79zM148.25 126.40h11.79v3.85h-11.79zM207.19 126.40h5.89v3.85h-5.89zM242.55 126.40h5.89v3.85h-5.89zM254.34 126.40h5.89v3.85h-5.89z"/>
<path fill="#c2fa2b" d="M59.84 50.40h5.89v3.85h-5.89zM59.84 54.20h5.89v3.85h-5.89zM65.73 61.80h5.89v3.85h-5.89zM65.73 65.60h5.89v3.85h-5.89zM77.52 77.00h5.89v3.85h-5.89zM83.42 84.60h5.89v3.85h-5.89zM59.84 88.40h5.89v3.85h-5.89zM89.31 92.20h5.89v3.85h-5.89zM136.46 92.20h23.58v3.85h-23.58zM136.46 96.00h29.47v3.85h-29.47zM71.63 99.80h5.89v3.85h-5.89zM95.20 99.80h5.89v3.85h-5.89zM136.46 99.80h17.68v3.85h-17.68zM160.04 99.80h11.79v3.85h-11.79zM136.46 103.60h17.68v3.85h-17.68zM165.93 103.60h11.79v3.85h-11.79zM77.52 107.40h5.89v3.85h-5.89zM130.57 107.40h23.58v3.85h-23.58zM165.93 107.40h17.68v3.85h-17.68zM112.89 111.20h41.26v3.85h-41.26zM171.83 111.20h17.68v3.85h-17.68zM83.42 115.00h5.89v3.85h-5.89zM130.57 115.00h29.47v3.85h-29.47zM183.61 115.00h11.79v3.85h-11.79zM83.42 118.80h5.89v3.85h-5.89zM142.36 118.80h5.89v3.85h-5.89zM154.14 118.80h5.89v3.85h-5.89zM195.40 118.80h5.89v3.85h-5.89zM213.08 118.80h17.68v3.85h-17.68zM83.42 122.60h5.89v3.85h-5.89zM195.40 122.60h11.79v3.85h-11.79zM213.08 122.60h23.58v3.85h-23.58zM248.45 122.60h5.89v3.85h-5.89zM160.04 126.40h5.89v3.85h-5.89zM195.40 126.40h11.79v3.85h-11.79zM213.08 126.40h29.47v3.85h-29.47zM248.45 126.40h5.89v3.85h-5.89z"/>
<path fill="#d8f808" d="M59.84 58.00h5.89v3.85h-5.89zM59.84 61.80h5.89v3.85h-5.89zM65.73 69.40h5.89v3.85h-5.89zM71.63 73.20h5.89v3.85h-5.89zM77.52 80.80h5.89v3.85h-5.89zM83.42 88.40h5.89v3.85h-5.89zM65.73 92.20h5.89v3.85h-5.89zM89.31 96.00h5.89v3.85h-5.89zM154.14 99.80h5.89v3.85h-5.89zM154.14 103.60h11.79v3.85h-11.79zM101.10 107.40h5.89v3.85h-5.89zM154.14 107.40h11.79v3.85h-11.79zM83.42 111.20h5.89v3.85h-5.89zM154.14 111.20h17.68v3.85h-17.68zM124.67 115.00h5.89v3.85h-5.89zM160.04 115.00h23.58v3.85h-23.58zM136.46 118.80h5.89v3.85h-5.89zM160.04 118.80h5.89v3.85h-5.89zM171.83 118.80h11.79v3.85h-11.79zM189.51 118.80h5.89v3.85h-5.89zM89.31 122.60h5.89v3.85h-5.89zM142.36 122.60h5.89v3.85h-5.89zM160.04 122.60h5.89v3.85h-5.89zM171.83 122.60h11.79v3.85h-11.79zM89.31 126.40h5.89v3.85h-5.89zM142.36 126.40h5.89v3.85h-5.89zM171.83 126.40h11.79v3.85h-11.79zM189.51 126.40h5.89v3.85h-5.89z"/>
<path fill="#e8d702" d="M59.84 65.60h5.89v3.85h-5.89zM71.63 77.00h5.89v3.85h-5.89zM59.84 84.60h5.89v3.85h-5.89zM77.52 84.60h5.89v3.85h-5.89zM83.42 92.20h5.89v3.85h-5.89zM71.63 96.00h5.89v3.85h-5.89zM77.52 103.60h5.89v3.85h-5.89zM95.20 103.60h5.89v3.85h-5.89zM106.99 111.20h5.89v3.85h-5.89zM118.78 115.00h5.89v3.85h-5.89zM89.31 118.80h5.89v3.85h-5.89zM130.57 118.80h5.89v3.85h-5.89zM165.93 118.80h5.89v3.85h-5.89zM183.61 118.80h5.89v3.85h-5.89zM136.46 122.60h5.89v3.85h-5.89zM165.93 122.60h5.89v3.85h-5.89zM183.61 122.60h11.79v3.85h-11.79zM136.46 126.40h5.89v3.85h-5.89zM165.93 126.40h5.89v3.85h-5.89zM183.61 126.40h5.89v3.85h-5.89z"/>
<path fill="#f2b500" d="M59.84 69.40h5.89v3.85h-5.89zM65.73 73.20h5.89v3.85h-5.89zM59.84 80.80h5.89v3.85h-5.89zM71.63 80.80h5.89v3.85h-5.89zM65.73 88.40h5.89v3.85h-5.89zM77.52 88.40h5.89v3.85h-5.89zM71.63 92.20h5.89v3.85h-5.89zM89.31 99.80h5.89v3.85h-5.89zM83.42 107.40h5.89v3.85h-5.89zM95.20 107.40h5.89v3.85h-5.89zM101.10 111.20h5.89v3.85h-5.89zM89.31 115.00h5.89v3.85h-5.89zM112.89 115.00h5.89v3.85h-5.89zM124.67 118.80h5.89v3.85h-5.89zM95.20 122.60h5.89v3.85h-5.89zM130.57 122.60h5.89v3.85h-5.89zM95.20 126.40h5.89v3.85h-5.89zM130.57 126.40h5.89v3.85h-5.89z"/>
<path fill="#f99101" d="M59.84 73.20h5.89v3.85h-5.89zM59.84 77.00h11.79v3.85h-11.79zM65.73 80.80h5.89v3.85h-5.89zM65.73 84.60h11.79v3.85h-11.79zM71.63 88.40h5.89v3.85h-5.89zM77.52 92.20h5.89v3.85h-5.89zM77.52 96.00h11.79v3.85h-11.79zM77.52 99.80h5.89v3.85h-5.89zM89.31 103.60h5.89v3.85h-5.89zM89.31 107.40h5.89v3.85h-5.89zM89.31 111.20h11.79v3.85h-11.79zM95.20 115.00h17.68v3.85h-17.68zM95.20 118.80h5.89v3.85h-5.89zM112.89 118.80h11.79v3.85h-11.79zM124.67 122.60h5.89v3.85h-5.89zM124.67 126.40h5.89v3.85h-5.89z"/>
<path fill="#c81efa" d="M389.90 77.00h5.89v3.85h-5.89z"/>
<path fill="#ff2408" d="M83.42 99.80h5.89v3.85h-5.89zM83.42 103.60h5.89v3.85h-5.89zM106.99 122.60h5.89v3.85h-5.89zM106.99 126.40h11.79v3.85h-11.79z"/>
<path fill="#fd6704" d="M101.10 118.80h11.79v3.85h-11.79zM101.10 122.60h5.89v3.85h-5.89zM112.89 122.60h11.79v3.85h-11.79zM101.10 126.40h5.89v3.85h-5.89zM118.78 126.40h5.89v3.85h-5.89z"/></g>
<rect x="40.5" y="6.6" width="428.2" height="128.5" fill="none" stroke="#8a8a8a" stroke-width="1"/>
<line x1="38.2" x2="40.5" y1="132.40" y2="132.40" stroke="#333" stroke-width="0.9"/>
<text class="tk" x="35.9" y="135.05" text-anchor="end">0</text>
<line x1="38.2" x2="40.5" y1="94.37" y2="94.37" stroke="#333" stroke-width="0.9"/>
<text class="tk" x="35.9" y="97.02" text-anchor="end">1000</text>
<line x1="38.2" x2="40.5" y1="56.34" y2="56.34" stroke="#333" stroke-width="0.9"/>
<text class="tk" x="35.9" y="58.99" text-anchor="end">2000</text>
<line x1="38.2" x2="40.5" y1="18.31" y2="18.31" stroke="#333" stroke-width="0.9"/>
<text class="tk" x="35.9" y="20.96" text-anchor="end">3000</text>
<text class="ti" transform="translate(15.4 70.9) rotate(-90)" text-anchor="middle">Height [m]</text>
</g>
<g>
<line x1="40.5" x2="468.7" y1="258.49" y2="258.49" stroke="#f0f0f0" stroke-width="0.5"/>
<line x1="40.5" x2="468.7" y1="220.45" y2="220.45" stroke="#f0f0f0" stroke-width="0.5"/>
<line x1="40.5" x2="468.7" y1="182.43" y2="182.43" stroke="#f0f0f0" stroke-width="0.5"/>
<line x1="83.40" x2="83.40" y1="151.7" y2="280.2" stroke="#f0f0f0" stroke-width="0.5"/>
<line x1="171.80" x2="171.80" y1="151.7" y2="280.2" stroke="#f0f0f0" stroke-width="0.5"/>
<line x1="260.20" x2="260.20" y1="151.7" y2="280.2" stroke="#f0f0f0" stroke-width="0.5"/>
<line x1="348.60" x2="348.60" y1="151.7" y2="280.2" stroke="#f0f0f0" stroke-width="0.5"/>
<line x1="437.00" x2="437.00" y1="151.7" y2="280.2" stroke="#f0f0f0" stroke-width="0.5"/>
<line x1="40.5" x2="468.7" y1="277.50" y2="277.50" stroke="#e8e8e8" stroke-width="0.9"/>
<line x1="40.5" x2="468.7" y1="239.47" y2="239.47" stroke="#e8e8e8" stroke-width="0.9"/>
<line x1="40.5" x2="468.7" y1="201.44" y2="201.44" stroke="#e8e8e8" stroke-width="0.9"/>
<line x1="40.5" x2="468.7" y1="163.41" y2="163.41" stroke="#e8e8e8" stroke-width="0.9"/>
<line x1="127.60" x2="127.60" y1="151.7" y2="280.2" stroke="#e8e8e8" stroke-width="0.9"/>
<line x1="216.00" x2="216.00" y1="151.7" y2="280.2" stroke="#e8e8e8" stroke-width="0.9"/>
<line x1="304.40" x2="304.40" y1="151.7" y2="280.2" stroke="#e8e8e8" stroke-width="0.9"/>
<line x1="392.80" x2="392.80" y1="151.7" y2="280.2" stroke="#e8e8e8" stroke-width="0.9"/>
<g shape-rendering="crispEdges"><path fill="#67fe5a" d="M59.84 157.50h5.89v3.85h-5.89zM142.36 157.50h29.47v3.85h-29.47zM59.84 161.30h5.89v3.85h-5.89zM142.36 161.30h11.79v3.85h-11.79zM165.93 161.30h5.89v3.85h-5.89zM59.84 165.10h5.89v3.85h-5.89zM148.25 165.10h5.89v3.85h-5.89zM160.04 165.10h11.79v3.85h-11.79zM106.99 168.90h5.89v3.85h-5.89zM148.25 168.90h5.89v3.85h-5.89zM65.73 172.70h5.89v3.85h-5.89zM118.78 172.70h5.89v3.85h-5.89zM130.57 172.70h5.89v3.85h-5.89zM148.25 172.70h5.89v3.85h-5.89zM65.73 176.50h5.89v3.85h-5.89zM112.89 176.50h35.36v3.85h-35.36zM65.73 180.30h5.89v3.85h-5.89zM95.20 180.30h5.89v3.85h-5.89zM118.78 180.30h5.89v3.85h-5.89zM130.57 180.30h17.68v3.85h-17.68zM71.63 184.10h5.89v3.85h-5.89zM89.31 184.10h5.89v3.85h-5.89zM112.89 184.10h11.79v3.85h-11.79zM130.57 184.10h5.89v3.85h-5.89zM142.36 184.10h11.79v3.85h-11.79zM71.63 187.90h23.58v3.85h-23.58zM130.57 187.90h5.89v3.85h-5.89zM142.36 187.90h11.79v3.85h-11.79zM77.52 191.70h11.79v3.85h-11.79zM130.57 191.70h5.89v3.85h-5.89zM142.36 191.70h11.79v3.85h-11.79zM124.67 195.50h5.89v3.85h-5.89zM148.25 195.50h11.79v3.85h-11.79zM136.46 199.30h5.89v3.85h-5.89zM148.25 199.30h5.89v3.85h-5.89zM160.04 199.30h5.89v3.85h-5.89zM136.46 203.10h5.89v3.85h-5.89zM148.25 203.10h5.89v3.85h-5.89zM160.04 203.10h5.89v3.85h-5.89zM254.34 203.10h5.89v3.85h-5.89zM307.39 203.10h5.89v3.85h-5.89zM124.67 206.90h5.89v3.85h-5.89zM136.46 206.90h5.89v3.85h-5.89zM165.93 206.90h5.89v3.85h-5.89zM260.24 206.90h5.89v3.85h-5.89zM301.49 206.90h17.68v3.85h-17.68zM95.20 210.70h5.89v3.85h-5.89zM124.67 210.70h17.68v3.85h-17.68zM165.93 210.70h11.79v3.85h-11.79zM301.49 210.70h23.58v3.85h-23.58zM130.57 214.50h17.68v3.85h-17.68zM171.83 214.50h11.79v3.85h-11.79zM301.49 214.50h23.58v3.85h-23.58zM142.36 218.30h17.68v3.85h-17.68zM183.61 218.30h11.79v3.85h-11.79zM301.49 218.30h29.47v3.85h-29.47zM101.10 222.10h5.89v3.85h-5.89zM148.25 222.10h11.79v3.85h-11.79zM189.51 222.10h11.79v3.85h-11.79zM277.92 222.10h5.89v3.85h-5.89zM301.49 222.10h29.47v3.85h-29.47zM101.10 225.90h5.89v3.85h-5.89zM148.25 225.90h11.79v3.85h-11.79zM195.40 225.90h11.79v3.85h-11.79zM301.49 225.90h29.47v3.85h-29.47zM342.75 225.90h5.89v3.85h-5.89zM195.40 229.70h17.68v3.85h-17.68zM248.45 229.70h5.89v3.85h-5.89zM301.49 229.70h35.36v3.85h-35.36zM342.75 229.70h5.89v3.85h-5.89zM160.04 233.50h5.89v3.85h-5.89zM195.40 233.50h17.68v3.85h-17.68zM248.45 233.50h5.89v3.85h-5.89zM307.39 233.50h29.47v3.85h-29.47zM342.75 233.50h11.79v3.85h-11.79zM201.30 237.30h17.68v3.85h-17.68zM313.28 237.30h41.26v3.85h-41.26zM201.30 241.10h23.58v3.85h-23.58zM313.28 241.10h47.15v3.85h-47.15zM171.83 244.90h5.89v3.85h-5.89zM207.19 244.90h29.47v3.85h-29.47zM313.28 244.90h29.47v3.85h-29.47zM348.65 244.90h5.89v3.85h-5.89zM360.43 244.90h5.89v3.85h-5.89zM177.72 248.70h5.89v3.85h-5.89zM207.19 248.70h35.36v3.85h-35.36zM319.18 248.70h23.58v3.85h-23.58zM348.65 248.70h11.79v3.85h-11.79zM366.33 248.70h5.89v3.85h-5.89zM213.08 252.50h35.36v3.85h-35.36zM325.07 252.50h17.68v3.85h-17.68zM348.65 252.50h11.79v3.85h-11.79zM224.87 256.30h29.47v3.85h-29.47zM330.96 256.30h11.79v3.85h-11.79zM348.65 256.30h11.79v3.85h-11.79zM59.84 260.10h5.89v3.85h-5.89zM230.77 260.10h29.47v3.85h-29.47zM336.86 260.10h29.47v3.85h-29.47zM59.84 263.90h5.89v3.85h-5.89zM230.77 263.90h17.68v3.85h-17.68zM254.34 263.90h5.89v3.85h-5.89zM342.75 263.90h23.58v3.85h-23.58zM59.84 267.70h11.79v3.85h-11.79zM201.30 267.70h5.89v3.85h-5.89zM236.66 267.70h11.79v3.85h-11.79zM260.24 267.70h5.89v3.85h-5.89zM348.65 267.70h17.68v3.85h-17.68zM59.84 271.50h11.79v3.85h-11.79zM154.14 271.50h5.89v3.85h-5.89zM201.30 271.50h5.89v3.85h-5.89zM236.66 271.50h11.79v3.85h-11.79zM260.24 271.50h5.89v3.85h-5.89zM348.65 271.50h17.68v3.85h-17.68z"/>
<path fill="#58e08c" d="M65.73 157.50h5.89v3.85h-5.89zM124.67 157.50h5.89v3.85h-5.89zM183.61 157.50h5.89v3.85h-5.89zM89.31 161.30h11.79v3.85h-11.79zM130.57 161.30h5.89v3.85h-5.89zM89.31 165.10h11.79v3.85h-11.79zM118.78 165.10h5.89v3.85h-5.89zM177.72 165.10h5.89v3.85h-5.89zM71.63 168.90h5.89v3.85h-5.89zM89.31 168.90h5.89v3.85h-5.89zM71.63 172.70h5.89v3.85h-5.89zM89.31 172.70h5.89v3.85h-5.89zM101.10 172.70h5.89v3.85h-5.89zM160.04 172.70h5.89v3.85h-5.89zM177.72 172.70h5.89v3.85h-5.89zM71.63 176.50h11.79v3.85h-11.79zM89.31 176.50h5.89v3.85h-5.89zM154.14 176.50h17.68v3.85h-17.68zM177.72 176.50h5.89v3.85h-5.89zM77.52 180.30h5.89v3.85h-5.89zM177.72 180.30h5.89v3.85h-5.89zM154.14 184.10h5.89v3.85h-5.89zM254.34 187.90h5.89v3.85h-5.89zM160.04 191.70h5.89v3.85h-5.89zM242.55 191.70h5.89v3.85h-5.89zM277.92 191.70h47.15v3.85h-47.15zM289.71 195.50h5.89v3.85h-5.89zM319.18 195.50h17.68v3.85h-17.68zM130.57 199.30h5.89v3.85h-5.89zM165.93 199.30h5.89v3.85h-5.89zM330.96 199.30h11.79v3.85h-11.79zM354.54 199.30h5.89v3.85h-5.89zM130.57 203.10h5.89v3.85h-5.89zM171.83 203.10h11.79v3.85h-11.79zM336.86 203.10h5.89v3.85h-5.89zM183.61 206.90h11.79v3.85h-11.79zM336.86 206.90h5.89v3.85h-5.89zM354.54 206.90h5.89v3.85h-5.89zM101.10 210.70h5.89v3.85h-5.89zM195.40 210.70h5.89v3.85h-5.89zM248.45 210.70h5.89v3.85h-5.89zM360.43 210.70h5.89v3.85h-5.89zM101.10 214.50h5.89v3.85h-5.89zM207.19 214.50h17.68v3.85h-17.68zM236.66 214.50h11.79v3.85h-11.79zM254.34 214.50h5.89v3.85h-5.89zM366.33 214.50h5.89v3.85h-5.89zM207.19 218.30h11.79v3.85h-11.79zM248.45 218.30h17.68v3.85h-17.68zM283.81 218.30h5.89v3.85h-5.89zM336.86 218.30h5.89v3.85h-5.89zM354.54 218.30h17.68v3.85h-17.68zM218.98 222.10h17.68v3.85h-17.68zM248.45 222.10h5.89v3.85h-5.89zM360.43 222.10h17.68v3.85h-17.68zM218.98 225.90h17.68v3.85h-17.68zM283.81 225.90h5.89v3.85h-5.89zM366.33 225.90h23.58v3.85h-23.58zM230.77 229.70h11.79v3.85h-11.79zM272.02 229.70h11.79v3.85h-11.79zM372.22 229.70h17.68v3.85h-17.68zM236.66 233.50h5.89v3.85h-5.89zM260.24 233.50h23.58v3.85h-23.58zM372.22 233.50h17.68v3.85h-17.68zM236.66 237.30h5.89v3.85h-5.89zM260.24 237.30h29.47v3.85h-29.47zM301.49 237.30h5.89v3.85h-5.89zM372.22 237.30h23.58v3.85h-23.58zM242.55 241.10h5.89v3.85h-5.89zM260.24 241.10h35.36v3.85h-35.36zM301.49 241.10h5.89v3.85h-5.89zM378.12 241.10h17.68v3.85h-17.68zM260.24 244.90h53.05v3.85h-53.05zM378.12 244.90h23.58v3.85h-23.58zM266.13 248.70h23.58v3.85h-23.58zM295.60 248.70h17.68v3.85h-17.68zM378.12 248.70h23.58v3.85h-23.58zM266.13 252.50h47.15v3.85h-47.15zM384.01 252.50h17.68v3.85h-17.68zM266.13 256.30h47.15v3.85h-47.15zM319.18 256.30h5.89v3.85h-5.89zM384.01 256.30h17.68v3.85h-17.68zM266.13 260.10h47.15v3.85h-47.15zM325.07 260.10h5.89v3.85h-5.89zM384.01 260.10h23.58v3.85h-23.58zM272.02 263.90h41.26v3.85h-41.26zM330.96 263.90h5.89v3.85h-5.89zM384.01 263.90h29.47v3.85h-29.47zM272.02 267.70h47.15v3.85h-47.15zM336.86 267.70h5.89v3.85h-5.89zM389.90 267.70h29.47v3.85h-29.47zM277.92 271.50h47.15v3.85h-47.15zM389.90 271.50h35.36v3.85h-35.36z"/>
<path fill="#67a1c9" d="M71.63 157.50h5.89v3.85h-5.89zM106.99 157.50h17.68v3.85h-17.68zM289.71 157.50h5.89v3.85h-5.89zM71.63 161.30h5.89v3.85h-5.89zM112.89 161.30h5.89v3.85h-5.89zM289.71 161.30h5.89v3.85h-5.89zM301.49 161.30h5.89v3.85h-5.89zM77.52 165.10h5.89v3.85h-5.89zM112.89 165.10h5.89v3.85h-5.89zM183.61 165.10h5.89v3.85h-5.89zM289.71 165.10h5.89v3.85h-5.89zM301.49 165.10h5.89v3.85h-5.89zM83.42 168.90h5.89v3.85h-5.89zM183.61 168.90h5.89v3.85h-5.89zM283.81 168.90h11.79v3.85h-11.79zM301.49 168.90h11.79v3.85h-11.79zM83.42 172.70h5.89v3.85h-5.89zM236.66 172.70h5.89v3.85h-5.89zM283.81 172.70h5.89v3.85h-5.89zM307.39 172.70h5.89v3.85h-5.89zM83.42 176.50h5.89v3.85h-5.89zM183.61 176.50h5.89v3.85h-5.89zM277.92 176.50h11.79v3.85h-11.79zM189.51 180.30h5.89v3.85h-5.89zM248.45 180.30h5.89v3.85h-5.89zM272.02 180.30h17.68v3.85h-17.68zM189.51 184.10h11.79v3.85h-11.79zM242.55 184.10h5.89v3.85h-5.89zM254.34 184.10h35.36v3.85h-35.36zM313.28 184.10h5.89v3.85h-5.89zM189.51 187.90h5.89v3.85h-5.89zM283.81 187.90h5.89v3.85h-5.89zM295.60 187.90h29.47v3.85h-29.47zM325.07 191.70h23.58v3.85h-23.58zM413.48 191.70h17.68v3.85h-17.68zM336.86 195.50h5.89v3.85h-5.89zM413.48 195.50h17.68v3.85h-17.68zM189.51 199.30h5.89v3.85h-5.89zM425.27 199.30h5.89v3.85h-5.89zM195.40 203.10h11.79v3.85h-11.79zM242.55 203.10h5.89v3.85h-5.89zM425.27 203.10h11.79v3.85h-11.79zM236.66 206.90h5.89v3.85h-5.89zM431.16 206.90h5.89v3.85h-5.89zM207.19 210.70h41.26v3.85h-41.26zM248.45 214.50h5.89v3.85h-5.89zM378.12 222.10h11.79v3.85h-11.79zM389.90 229.70h5.89v3.85h-5.89zM389.90 233.50h5.89v3.85h-5.89zM395.80 237.30h5.89v3.85h-5.89zM395.80 241.10h11.79v3.85h-11.79zM83.42 244.90h5.89v3.85h-5.89zM401.69 244.90h11.79v3.85h-11.79zM289.71 248.70h5.89v3.85h-5.89zM401.69 248.70h17.68v3.85h-17.68zM425.27 248.70h11.79v3.85h-11.79zM313.28 252.50h5.89v3.85h-5.89zM401.69 252.50h41.26v3.85h-41.26zM313.28 256.30h5.89v3.85h-5.89zM401.69 256.30h41.26v3.85h-41.26zM313.28 260.10h11.79v3.85h-11.79zM407.59 260.10h35.36v3.85h-35.36zM313.28 263.90h17.68v3.85h-17.68zM413.48 263.90h35.36v3.85h-35.36zM319.18 267.70h17.68v3.85h-17.68zM419.37 267.70h29.47v3.85h-29.47zM325.07 271.50h17.68v3.85h-17.68zM425.27 271.50h23.58v3.85h-23.58z"/>
<path fill="#2b62ff" d="M77.52 157.50h5.89v3.85h-5.89zM230.77 157.50h5.89v3.85h-5.89zM260.24 157.50h23.58v3.85h-23.58zM319.18 157.50h5.89v3.85h-5.89zM230.77 161.30h5.89v3.85h-5.89zM254.34 161.30h11.79v3.85h-11.79zM313.28 161.30h11.79v3.85h-11.79zM378.12 161.30h5.89v3.85h-5.89zM230.77 165.10h5.89v3.85h-5.89zM248.45 165.10h5.89v3.85h-5.89zM260.24 165.10h5.89v3.85h-5.89zM325.07 165.10h5.89v3.85h-5.89zM389.90 165.10h5.89v3.85h-5.89zM230.77 168.90h5.89v3.85h-5.89zM248.45 168.90h5.89v3.85h-5.89zM260.24 168.90h5.89v3.85h-5.89zM330.96 168.90h5.89v3.85h-5.89zM389.90 168.90h5.89v3.85h-5.89zM207.19 172.70h11.79v3.85h-11.79zM230.77 172.70h5.89v3.85h-5.89zM248.45 172.70h17.68v3.85h-17.68zM401.69 172.70h5.89v3.85h-5.89zM207.19 176.50h11.79v3.85h-11.79zM224.87 176.50h11.79v3.85h-11.79zM254.34 176.50h5.89v3.85h-5.89zM295.60 176.50h5.89v3.85h-5.89zM325.07 176.50h5.89v3.85h-5.89zM336.86 176.50h5.89v3.85h-5.89zM207.19 180.30h17.68v3.85h-17.68zM230.77 180.30h5.89v3.85h-5.89zM242.55 180.30h5.89v3.85h-5.89zM289.71 180.30h17.68v3.85h-17.68zM325.07 180.30h5.89v3.85h-5.89zM207.19 184.10h11.79v3.85h-11.79zM289.71 184.10h5.89v3.85h-5.89zM213.08 187.90h5.89v3.85h-5.89z"/>
<path fill="#68c0ac" d="M83.42 157.50h17.68v3.85h-17.68zM130.57 157.50h5.89v3.85h-5.89zM236.66 157.50h5.89v3.85h-5.89zM83.42 161.30h5.89v3.85h-5.89zM101.10 161.30h11.79v3.85h-11.79zM118.78 161.30h5.89v3.85h-5.89zM183.61 161.30h5.89v3.85h-5.89zM71.63 165.10h5.89v3.85h-5.89zM83.42 165.10h5.89v3.85h-5.89zM101.10 165.10h5.89v3.85h-5.89zM124.67 165.10h5.89v3.85h-5.89zM77.52 168.90h5.89v3.85h-5.89zM101.10 168.90h5.89v3.85h-5.89zM124.67 168.90h5.89v3.85h-5.89zM177.72 168.90h5.89v3.85h-5.89zM77.52 172.70h5.89v3.85h-5.89zM83.42 180.30h5.89v3.85h-5.89zM154.14 180.30h23.58v3.85h-23.58zM183.61 180.30h5.89v3.85h-5.89zM160.04 184.10h29.47v3.85h-29.47zM248.45 184.10h5.89v3.85h-5.89zM160.04 187.90h23.58v3.85h-23.58zM242.55 187.90h5.89v3.85h-5.89zM260.24 187.90h23.58v3.85h-23.58zM165.93 191.70h11.79v3.85h-11.79zM165.93 195.50h17.68v3.85h-17.68zM171.83 199.30h17.68v3.85h-17.68zM342.75 199.30h5.89v3.85h-5.89zM183.61 203.10h11.79v3.85h-11.79zM342.75 203.10h11.79v3.85h-11.79zM195.40 206.90h11.79v3.85h-11.79zM342.75 206.90h11.79v3.85h-11.79zM201.30 210.70h5.89v3.85h-5.89zM342.75 210.70h17.68v3.85h-17.68zM224.87 214.50h11.79v3.85h-11.79zM342.75 214.50h23.58v3.85h-23.58zM218.98 218.30h29.47v3.85h-29.47zM236.66 222.10h11.79v3.85h-11.79zM236.66 225.90h11.79v3.85h-11.79zM242.55 229.70h5.89v3.85h-5.89zM242.55 233.50h5.89v3.85h-5.89zM242.55 237.30h5.89v3.85h-5.89z"/>
<path fill="#605bfe" d="M101.10 157.50h5.89v3.85h-5.89zM242.55 161.30h5.89v3.85h-5.89zM242.55 165.10h5.89v3.85h-5.89zM242.55 168.90h5.89v3.85h-5.89zM242.55 172.70h5.89v3.85h-5.89zM218.98 176.50h5.89v3.85h-5.89zM242.55 176.50h5.89v3.85h-5.89z"/>
<path fill="#8cfd4d" d="M136.46 157.50h5.89v3.85h-5.89zM136.46 161.30h5.89v3.85h-5.89zM142.36 165.10h5.89v3.85h-5.89zM59.84 168.90h5.89v3.85h-5.89zM112.89 168.90h5.89v3.85h-5.89zM142.36 168.90h5.89v3.85h-5.89zM59.84 172.70h5.89v3.85h-5.89zM106.99 172.70h11.79v3.85h-11.79zM136.46 172.70h11.79v3.85h-11.79zM59.84 176.50h5.89v3.85h-5.89zM106.99 176.50h5.89v3.85h-5.89zM59.84 180.30h5.89v3.85h-5.89zM106.99 180.30h5.89v3.85h-5.89zM65.73 184.10h5.89v3.85h-5.89zM95.20 184.10h17.68v3.85h-17.68zM136.46 184.10h5.89v3.85h-5.89zM65.73 187.90h5.89v3.85h-5.89zM106.99 187.90h17.68v3.85h-17.68zM136.46 187.90h5.89v3.85h-5.89zM71.63 191.70h5.89v3.85h-5.89zM89.31 191.70h5.89v3.85h-5.89zM112.89 191.70h11.79v3.85h-11.79zM136.46 191.70h5.89v3.85h-5.89zM71.63 195.50h23.58v3.85h-23.58zM112.89 195.50h11.79v3.85h-11.79zM136.46 195.50h11.79v3.85h-11.79zM77.52 199.30h17.68v3.85h-17.68zM112.89 199.30h11.79v3.85h-11.79zM142.36 199.30h5.89v3.85h-5.89zM154.14 199.30h5.89v3.85h-5.89zM83.42 203.10h17.68v3.85h-17.68zM112.89 203.10h11.79v3.85h-11.79zM142.36 203.10h5.89v3.85h-5.89zM154.14 203.10h5.89v3.85h-5.89zM89.31 206.90h5.89v3.85h-5.89zM118.78 206.90h5.89v3.85h-5.89zM142.36 206.90h23.58v3.85h-23.58zM118.78 210.70h5.89v3.85h-5.89zM142.36 210.70h23.58v3.85h-23.58zM95.20 214.50h5.89v3.85h-5.89zM106.99 214.50h5.89v3.85h-5.89zM118.78 214.50h11.79v3.85h-11.79zM148.25 214.50h23.58v3.85h-23.58zM95.20 218.30h5.89v3.85h-5.89zM106.99 218.30h35.36v3.85h-35.36zM160.04 218.30h23.58v3.85h-23.58zM95.20 222.10h5.89v3.85h-5.89zM106.99 222.10h41.26v3.85h-41.26zM160.04 222.10h29.47v3.85h-29.47zM106.99 225.90h5.89v3.85h-5.89zM124.67 225.90h23.58v3.85h-23.58zM160.04 225.90h35.36v3.85h-35.36zM101.10 229.70h11.79v3.85h-11.79zM136.46 229.70h47.15v3.85h-47.15zM189.51 229.70h5.89v3.85h-5.89zM101.10 233.50h17.68v3.85h-17.68zM142.36 233.50h17.68v3.85h-17.68zM165.93 233.50h17.68v3.85h-17.68zM189.51 233.50h5.89v3.85h-5.89zM106.99 237.30h11.79v3.85h-11.79zM148.25 237.30h35.36v3.85h-35.36zM189.51 237.30h11.79v3.85h-11.79zM59.84 241.10h5.89v3.85h-5.89zM112.89 241.10h11.79v3.85h-11.79zM160.04 241.10h23.58v3.85h-23.58zM189.51 241.10h11.79v3.85h-11.79zM59.84 244.90h5.89v3.85h-5.89zM118.78 244.90h5.89v3.85h-5.89zM165.93 244.90h5.89v3.85h-5.89zM177.72 244.90h5.89v3.85h-5.89zM189.51 244.90h17.68v3.85h-17.68zM342.75 244.90h5.89v3.85h-5.89zM59.84 248.70h11.79v3.85h-11.79zM118.78 248.70h11.79v3.85h-11.79zM165.93 248.70h11.79v3.85h-11.79zM183.61 248.70h23.58v3.85h-23.58zM342.75 248.70h5.89v3.85h-5.89zM59.84 252.50h11.79v3.85h-11.79zM124.67 252.50h5.89v3.85h-5.89zM171.83 252.50h41.26v3.85h-41.26zM342.75 252.50h5.89v3.85h-5.89zM59.84 256.30h17.68v3.85h-17.68zM124.67 256.30h11.79v3.85h-11.79zM177.72 256.30h47.15v3.85h-47.15zM342.75 256.30h5.89v3.85h-5.89zM65.73 260.10h11.79v3.85h-11.79zM130.57 260.10h5.89v3.85h-5.89zM154.14 260.10h5.89v3.85h-5.89zM183.61 260.10h29.47v3.85h-29.47zM218.98 260.10h11.79v3.85h-11.79zM65.73 263.90h17.68v3.85h-17.68zM130.57 263.90h11.79v3.85h-11.79zM148.25 263.90h11.79v3.85h-11.79zM183.61 263.90h47.15v3.85h-47.15zM248.45 263.90h5.89v3.85h-5.89zM71.63 267.70h11.79v3.85h-11.79zM136.46 267.70h23.58v3.85h-23.58zM183.61 267.70h17.68v3.85h-17.68zM207.19 267.70h29.47v3.85h-29.47zM248.45 267.70h11.79v3.85h-11.79zM71.63 271.50h11.79v3.85h-11.79zM136.46 271.50h17.68v3.85h-17.68zM183.61 271.50h17.68v3.85h-17.68zM207.19 271.50h29.47v3.85h-29.47zM248.45 271.50h11.79v3.85h-11.79z"/>
<path fill="#22ff66" d="M177.72 157.50h5.89v3.85h-5.89zM65.73 161.30h5.89v3.85h-5.89zM124.67 161.30h5.89v3.85h-5.89zM154.14 161.30h11.79v3.85h-11.79zM177.72 161.30h5.89v3.85h-5.89zM195.40 161.30h5.89v3.85h-5.89zM65.73 165.10h5.89v3.85h-5.89zM106.99 165.10h5.89v3.85h-5.89zM130.57 165.10h5.89v3.85h-5.89zM154.14 165.10h5.89v3.85h-5.89zM65.73 168.90h5.89v3.85h-5.89zM95.20 168.90h5.89v3.85h-5.89zM118.78 168.90h5.89v3.85h-5.89zM130.57 168.90h5.89v3.85h-5.89zM154.14 168.90h17.68v3.85h-17.68zM95.20 172.70h5.89v3.85h-5.89zM124.67 172.70h5.89v3.85h-5.89zM154.14 172.70h5.89v3.85h-5.89zM95.20 176.50h11.79v3.85h-11.79zM148.25 176.50h5.89v3.85h-5.89zM71.63 180.30h5.89v3.85h-5.89zM89.31 180.30h5.89v3.85h-5.89zM101.10 180.30h5.89v3.85h-5.89zM112.89 180.30h5.89v3.85h-5.89zM124.67 180.30h5.89v3.85h-5.89zM148.25 180.30h5.89v3.85h-5.89zM77.52 184.10h11.79v3.85h-11.79zM124.67 184.10h5.89v3.85h-5.89zM124.67 187.90h5.89v3.85h-5.89zM154.14 187.90h5.89v3.85h-5.89zM248.45 187.90h5.89v3.85h-5.89zM124.67 191.70h5.89v3.85h-5.89zM154.14 191.70h5.89v3.85h-5.89zM248.45 191.70h29.47v3.85h-29.47zM130.57 195.50h5.89v3.85h-5.89zM160.04 195.50h5.89v3.85h-5.89zM248.45 195.50h41.26v3.85h-41.26zM295.60 195.50h23.58v3.85h-23.58zM124.67 199.30h5.89v3.85h-5.89zM254.34 199.30h76.62v3.85h-76.62zM124.67 203.10h5.89v3.85h-5.89zM165.93 203.10h5.89v3.85h-5.89zM260.24 203.10h47.15v3.85h-47.15zM313.28 203.10h23.58v3.85h-23.58zM354.54 203.10h11.79v3.85h-11.79zM95.20 206.90h5.89v3.85h-5.89zM130.57 206.90h5.89v3.85h-5.89zM171.83 206.90h11.79v3.85h-11.79zM248.45 206.90h11.79v3.85h-11.79zM266.13 206.90h35.36v3.85h-35.36zM319.18 206.90h17.68v3.85h-17.68zM360.43 206.90h11.79v3.85h-11.79zM177.72 210.70h17.68v3.85h-17.68zM254.34 210.70h47.15v3.85h-47.15zM325.07 210.70h17.68v3.85h-17.68zM366.33 210.70h5.89v3.85h-5.89zM183.61 214.50h23.58v3.85h-23.58zM260.24 214.50h41.26v3.85h-41.26zM325.07 214.50h17.68v3.85h-17.68zM101.10 218.30h5.89v3.85h-5.89zM195.40 218.30h11.79v3.85h-11.79zM266.13 218.30h17.68v3.85h-17.68zM289.71 218.30h11.79v3.85h-11.79zM330.96 218.30h5.89v3.85h-5.89zM342.75 218.30h11.79v3.85h-11.79zM201.30 222.10h17.68v3.85h-17.68zM254.34 222.10h23.58v3.85h-23.58zM283.81 222.10h17.68v3.85h-17.68zM330.96 222.10h29.47v3.85h-29.47zM207.19 225.90h11.79v3.85h-11.79zM248.45 225.90h35.36v3.85h-35.36zM289.71 225.90h11.79v3.85h-11.79zM330.96 225.90h11.79v3.85h-11.79zM348.65 225.90h17.68v3.85h-17.68zM213.08 229.70h17.68v3.85h-17.68zM254.34 229.70h17.68v3.85h-17.68zM289.71 229.70h11.79v3.85h-11.79zM336.86 229.70h5.89v3.85h-5.89zM348.65 229.70h23.58v3.85h-23.58zM213.08 233.50h23.58v3.85h-23.58zM254.34 233.50h5.89v3.85h-5.89zM289.71 233.50h17.68v3.85h-17.68zM336.86 233.50h5.89v3.85h-5.89zM354.54 233.50h17.68v3.85h-17.68zM218.98 237.30h17.68v3.85h-17.68zM248.45 237.30h11.79v3.85h-11.79zM289.71 237.30h11.79v3.85h-11.79zM307.39 237.30h5.89v3.85h-5.89zM354.54 237.30h17.68v3.85h-17.68zM224.87 241.10h17.68v3.85h-17.68zM248.45 241.10h11.79v3.85h-11.79zM295.60 241.10h5.89v3.85h-5.89zM307.39 241.10h5.89v3.85h-5.89zM360.43 241.10h17.68v3.85h-17.68zM236.66 244.90h23.58v3.85h-23.58zM354.54 244.90h5.89v3.85h-5.89zM366.33 244.90h11.79v3.85h-11.79zM242.55 248.70h23.58v3.85h-23.58zM313.28 248.70h5.89v3.85h-5.89zM360.43 248.70h5.89v3.85h-5.89zM372.22 248.70h5.89v3.85h-5.89zM248.45 252.50h17.68v3.85h-17.68zM319.18 252.50h5.89v3.85h-5.89zM360.43 252.50h23.58v3.85h-23.58zM254.34 256.30h11.79v3.85h-11.79zM325.07 256.30h5.89v3.85h-5.89zM360.43 256.30h23.58v3.85h-23.58zM260.24 260.10h5.89v3.85h-5.89zM330.96 260.10h5.89v3.85h-5.89zM366.33 260.10h17.68v3.85h-17.68zM260.24 263.90h11.79v3.85h-11.79zM336.86 263.90h5.89v3.85h-5.89zM366.33 263.90h17.68v3.85h-17.68zM266.13 267.70h5.89v3.85h-5.89zM342.75 267.70h5.89v3.85h-5.89zM366.33 267.70h23.58v3.85h-23.58zM266.13 271.50h11.79v3.85h-11.79zM342.75 271.50h5.89v3.85h-5.89zM366.33 271.50h23.58v3.85h-23.58z"/>
<path fill="#5882e4" d="M189.51 157.50h5.89v3.85h-5.89zM283.81 157.50h5.89v3.85h-5.89zM295.60 157.50h17.68v3.85h-17.68zM77.52 161.30h5.89v3.85h-5.89zM189.51 161.30h5.89v3.85h-5.89zM236.66 161.30h5.89v3.85h-5.89zM266.13 161.30h23.58v3.85h-23.58zM295.60 161.30h5.89v3.85h-5.89zM307.39 161.30h5.89v3.85h-5.89zM189.51 165.10h5.89v3.85h-5.89zM236.66 165.10h5.89v3.85h-5.89zM266.13 165.10h23.58v3.85h-23.58zM295.60 165.10h5.89v3.85h-5.89zM307.39 165.10h17.68v3.85h-17.68zM395.80 165.10h5.89v3.85h-5.89zM189.51 168.90h5.89v3.85h-5.89zM236.66 168.90h5.89v3.85h-5.89zM266.13 168.90h17.68v3.85h-17.68zM295.60 168.90h5.89v3.85h-5.89zM313.28 168.90h17.68v3.85h-17.68zM395.80 168.90h5.89v3.85h-5.89zM183.61 172.70h17.68v3.85h-17.68zM266.13 172.70h17.68v3.85h-17.68zM289.71 172.70h17.68v3.85h-17.68zM313.28 172.70h23.58v3.85h-23.58zM189.51 176.50h11.79v3.85h-11.79zM236.66 176.50h5.89v3.85h-5.89zM248.45 176.50h5.89v3.85h-5.89zM260.24 176.50h17.68v3.85h-17.68zM289.71 176.50h5.89v3.85h-5.89zM301.49 176.50h23.58v3.85h-23.58zM330.96 176.50h5.89v3.85h-5.89zM195.40 180.30h11.79v3.85h-11.79zM224.87 180.30h5.89v3.85h-5.89zM236.66 180.30h5.89v3.85h-5.89zM254.34 180.30h17.68v3.85h-17.68zM307.39 180.30h17.68v3.85h-17.68zM336.86 180.30h17.68v3.85h-17.68zM407.59 180.30h5.89v3.85h-5.89zM201.30 184.10h5.89v3.85h-5.89zM218.98 184.10h23.58v3.85h-23.58zM295.60 184.10h17.68v3.85h-17.68zM319.18 184.10h35.36v3.85h-35.36zM407.59 184.10h11.79v3.85h-11.79zM218.98 187.90h11.79v3.85h-11.79zM236.66 187.90h5.89v3.85h-5.89zM289.71 187.90h5.89v3.85h-5.89zM325.07 187.90h29.47v3.85h-29.47zM407.59 187.90h17.68v3.85h-17.68zM437.06 203.10h11.79v3.85h-11.79zM437.06 206.90h11.79v3.85h-11.79zM431.16 210.70h17.68v3.85h-17.68zM437.06 214.50h5.89v3.85h-5.89zM372.22 218.30h5.89v3.85h-5.89zM389.90 222.10h5.89v3.85h-5.89zM389.90 225.90h5.89v3.85h-5.89zM283.81 229.70h5.89v3.85h-5.89zM395.80 229.70h5.89v3.85h-5.89zM283.81 233.50h5.89v3.85h-5.89zM395.80 233.50h5.89v3.85h-5.89zM401.69 237.30h5.89v3.85h-5.89zM407.59 241.10h5.89v3.85h-5.89zM437.06 241.10h5.89v3.85h-5.89zM413.48 244.90h5.89v3.85h-5.89zM425.27 244.90h17.68v3.85h-17.68zM419.37 248.70h5.89v3.85h-5.89zM437.06 248.70h11.79v3.85h-11.79zM442.95 252.50h5.89v3.85h-5.89zM442.95 256.30h5.89v3.85h-5.89zM442.95 260.10h5.89v3.85h-5.89z"/>
<path fill="#a9fc3e" d="M136.46 165.10h5.89v3.85h-5.89zM136.46 168.90h5.89v3.85h-5.89zM59.84 184.10h5.89v3.85h-5.89zM59.84 187.90h5.89v3.85h-5.89zM95.20 187.90h11.79v3.85h-11.79zM59.84 191.70h11.79v3.85h-11.79zM95.20 191.70h11.79v3.85h-11.79zM65.73 195.50h5.89v3.85h-5.89zM95.20 195.50h17.68v3.85h-17.68zM65.73 199.30h11.79v3.85h-11.79zM95.20 199.30h17.68v3.85h-17.68zM71.63 203.10h11.79v3.85h-11.79zM101.10 203.10h11.79v3.85h-11.79zM77.52 206.90h11.79v3.85h-11.79zM101.10 206.90h17.68v3.85h-17.68zM83.42 210.70h11.79v3.85h-11.79zM106.99 210.70h11.79v3.85h-11.79zM83.42 214.50h11.79v3.85h-11.79zM112.89 214.50h5.89v3.85h-5.89zM89.31 218.30h5.89v3.85h-5.89zM89.31 222.10h5.89v3.85h-5.89zM95.20 225.90h5.89v3.85h-5.89zM112.89 225.90h11.79v3.85h-11.79zM95.20 229.70h5.89v3.85h-5.89zM112.89 229.70h23.58v3.85h-23.58zM183.61 229.70h5.89v3.85h-5.89zM118.78 233.50h23.58v3.85h-23.58zM183.61 233.50h5.89v3.85h-5.89zM59.84 237.30h5.89v3.85h-5.89zM101.10 237.30h5.89v3.85h-5.89zM118.78 237.30h29.47v3.85h-29.47zM183.61 237.30h5.89v3.85h-5.89zM65.73 241.10h5.89v3.85h-5.89zM106.99 241.10h5.89v3.85h-5.89zM124.67 241.10h35.36v3.85h-35.36zM183.61 241.10h5.89v3.85h-5.89zM65.73 244.90h11.79v3.85h-11.79zM106.99 244.90h11.79v3.85h-11.79zM124.67 244.90h41.26v3.85h-41.26zM183.61 244.90h5.89v3.85h-5.89zM71.63 248.70h5.89v3.85h-5.89zM112.89 248.70h5.89v3.85h-5.89zM130.57 248.70h35.36v3.85h-35.36zM71.63 252.50h11.79v3.85h-11.79zM112.89 252.50h11.79v3.85h-11.79zM130.57 252.50h41.26v3.85h-41.26zM77.52 256.30h5.89v3.85h-5.89zM118.78 256.30h5.89v3.85h-5.89zM136.46 256.30h41.26v3.85h-41.26zM77.52 260.10h11.79v3.85h-11.79zM118.78 260.10h11.79v3.85h-11.79zM136.46 260.10h17.68v3.85h-17.68zM160.04 260.10h23.58v3.85h-23.58zM213.08 260.10h5.89v3.85h-5.89zM83.42 263.90h5.89v3.85h-5.89zM124.67 263.90h5.89v3.85h-5.89zM142.36 263.90h5.89v3.85h-5.89zM160.04 263.90h23.58v3.85h-23.58zM83.42 267.70h11.79v3.85h-11.79zM124.67 267.70h11.79v3.85h-11.79zM160.04 267.70h5.89v3.85h-5.89zM171.83 267.70h11.79v3.85h-11.79zM83.42 271.50h11.79v3.85h-11.79zM124.67 271.50h11.79v3.85h-11.79zM160.04 271.50h5.89v3.85h-5.89zM171.83 271.50h11.79v3.85h-11.79z"/>
<path fill="#c2fa2b" d="M59.84 195.50h5.89v3.85h-5.89zM59.84 199.30h5.89v3.85h-5.89zM65.73 203.10h5.89v3.85h-5.89zM65.73 206.90h11.79v3.85h-11.79zM71.63 210.70h11.79v3.85h-11.79zM71.63 214.50h11.79v3.85h-11.79zM65.73 218.30h17.68v3.85h-17.68zM71.63 222.10h17.68v3.85h-17.68zM77.52 225.90h5.89v3.85h-5.89zM89.31 225.90h5.89v3.85h-5.89zM59.84 229.70h5.89v3.85h-5.89zM89.31 229.70h5.89v3.85h-5.89zM59.84 233.50h11.79v3.85h-11.79zM89.31 233.50h11.79v3.85h-11.79zM65.73 237.30h11.79v3.85h-11.79zM95.20 237.30h5.89v3.85h-5.89zM71.63 241.10h5.89v3.85h-5.89zM95.20 241.10h11.79v3.85h-11.79zM77.52 244.90h5.89v3.85h-5.89zM101.10 244.90h5.89v3.85h-5.89zM77.52 248.70h5.89v3.85h-5.89zM101.10 248.70h11.79v3.85h-11.79zM83.42 252.50h5.89v3.85h-5.89zM106.99 252.50h5.89v3.85h-5.89zM83.42 256.30h11.79v3.85h-11.79zM106.99 256.30h11.79v3.85h-11.79zM89.31 260.10h11.79v3.85h-11.79zM112.89 260.10h5.89v3.85h-5.89zM89.31 263.90h11.79v3.85h-11.79zM106.99 263.90h17.68v3.85h-17.68zM95.20 267.70h29.47v3.85h-29.47zM165.93 267.70h5.89v3.85h-5.89zM95.20 271.50h29.47v3.85h-29.47zM165.93 271.50h5.89v3.85h-5.89z"/>
<path fill="#d8f808" d="M59.84 203.10h5.89v3.85h-5.89zM65.73 210.70h5.89v3.85h-5.89zM65.73 214.50h5.89v3.85h-5.89zM59.84 218.30h5.89v3.85h-5.89zM59.84 222.10h11.79v3.85h-11.79zM59.84 225.90h17.68v3.85h-17.68zM65.73 229.70h17.68v3.85h-17.68zM71.63 233.50h17.68v3.85h-17.68zM77.52 237.30h17.68v3.85h-17.68zM77.52 241.10h17.68v3.85h-17.68zM89.31 244.90h11.79v3.85h-11.79zM89.31 248.70h11.79v3.85h-11.79zM89.31 252.50h17.68v3.85h-17.68zM95.20 256.30h11.79v3.85h-11.79zM101.10 260.10h11.79v3.85h-11.79z"/>
<path fill="#e8d702" d="M59.84 206.90h5.89v3.85h-5.89zM59.84 210.70h5.89v3.85h-5.89zM59.84 214.50h5.89v3.85h-5.89z"/>
<path fill="#b338fb" d="M83.42 218.30h5.89v3.85h-5.89zM83.42 225.90h5.89v3.85h-5.89zM83.42 229.70h5.89v3.85h-5.89z"/>
<path fill="#f99101" d="M83.42 248.70h5.89v3.85h-5.89z"/>
<path fill="#ff2408" d="M101.10 263.90h5.89v3.85h-5.89z"/></g>
<rect x="40.5" y="151.7" width="428.2" height="128.5" fill="none" stroke="#8a8a8a" stroke-width="1"/>
<line x1="38.2" x2="40.5" y1="277.50" y2="277.50" stroke="#333" stroke-width="0.9"/>
<text class="tk" x="35.9" y="280.15" text-anchor="end">0</text>
<line x1="38.2" x2="40.5" y1="239.47" y2="239.47" stroke="#333" stroke-width="0.9"/>
<text class="tk" x="35.9" y="242.12" text-anchor="end">1000</text>
<line x1="38.2" x2="40.5" y1="201.44" y2="201.44" stroke="#333" stroke-width="0.9"/>
<text class="tk" x="35.9" y="204.09" text-anchor="end">2000</text>
<line x1="38.2" x2="40.5" y1="163.41" y2="163.41" stroke="#333" stroke-width="0.9"/>
<text class="tk" x="35.9" y="166.06" text-anchor="end">3000</text>
<text class="ti" transform="translate(15.4 216.0) rotate(-90)" text-anchor="middle">Height [m]</text>
</g>
<g>
<line x1="40.5" x2="468.7" y1="403.59" y2="403.59" stroke="#f0f0f0" stroke-width="0.5"/>
<line x1="40.5" x2="468.7" y1="365.56" y2="365.56" stroke="#f0f0f0" stroke-width="0.5"/>
<line x1="40.5" x2="468.7" y1="327.53" y2="327.53" stroke="#f0f0f0" stroke-width="0.5"/>
<line x1="83.40" x2="83.40" y1="296.8" y2="425.3" stroke="#f0f0f0" stroke-width="0.5"/>
<line x1="171.80" x2="171.80" y1="296.8" y2="425.3" stroke="#f0f0f0" stroke-width="0.5"/>
<line x1="260.20" x2="260.20" y1="296.8" y2="425.3" stroke="#f0f0f0" stroke-width="0.5"/>
<line x1="348.60" x2="348.60" y1="296.8" y2="425.3" stroke="#f0f0f0" stroke-width="0.5"/>
<line x1="437.00" x2="437.00" y1="296.8" y2="425.3" stroke="#f0f0f0" stroke-width="0.5"/>
<line x1="40.5" x2="468.7" y1="422.60" y2="422.60" stroke="#e8e8e8" stroke-width="0.9"/>
<line x1="40.5" x2="468.7" y1="384.57" y2="384.57" stroke="#e8e8e8" stroke-width="0.9"/>
<line x1="40.5" x2="468.7" y1="346.54" y2="346.54" stroke="#e8e8e8" stroke-width="0.9"/>
<line x1="40.5" x2="468.7" y1="308.51" y2="308.51" stroke="#e8e8e8" stroke-width="0.9"/>
<line x1="127.60" x2="127.60" y1="296.8" y2="425.3" stroke="#e8e8e8" stroke-width="0.9"/>
<line x1="216.00" x2="216.00" y1="296.8" y2="425.3" stroke="#e8e8e8" stroke-width="0.9"/>
<line x1="304.40" x2="304.40" y1="296.8" y2="425.3" stroke="#e8e8e8" stroke-width="0.9"/>
<line x1="392.80" x2="392.80" y1="296.8" y2="425.3" stroke="#e8e8e8" stroke-width="0.9"/>
<g shape-rendering="crispEdges"><path fill="#685afe" d="M59.84 302.60h5.89v3.85h-5.89zM71.63 310.20h5.89v3.85h-5.89zM89.31 314.00h5.89v3.85h-5.89zM160.04 314.00h5.89v3.85h-5.89zM89.31 317.80h5.89v3.85h-5.89zM118.78 321.60h11.79v3.85h-11.79zM101.10 325.40h5.89v3.85h-5.89zM118.78 325.40h11.79v3.85h-11.79zM101.10 329.20h5.89v3.85h-5.89zM118.78 333.00h11.79v3.85h-11.79zM254.34 333.00h5.89v3.85h-5.89zM77.52 336.80h5.89v3.85h-5.89zM124.67 336.80h5.89v3.85h-5.89zM254.34 336.80h5.89v3.85h-5.89zM301.49 336.80h17.68v3.85h-17.68zM301.49 340.60h11.79v3.85h-11.79zM183.61 348.20h5.89v3.85h-5.89zM112.89 352.00h5.89v3.85h-5.89zM112.89 355.80h5.89v3.85h-5.89zM124.67 355.80h5.89v3.85h-5.89zM101.10 367.20h11.79v3.85h-11.79zM218.98 367.20h5.89v3.85h-5.89zM266.13 374.80h17.68v3.85h-17.68zM325.07 374.80h5.89v3.85h-5.89zM272.02 378.60h11.79v3.85h-11.79zM301.49 378.60h5.89v3.85h-5.89zM295.60 382.40h17.68v3.85h-17.68zM171.83 386.20h5.89v3.85h-5.89zM289.71 386.20h11.79v3.85h-11.79zM307.39 386.20h5.89v3.85h-5.89zM283.81 390.00h5.89v3.85h-5.89zM307.39 390.00h11.79v3.85h-11.79zM319.18 393.80h5.89v3.85h-5.89zM313.28 397.60h5.89v3.85h-5.89zM325.07 397.60h5.89v3.85h-5.89zM330.96 401.40h5.89v3.85h-5.89zM207.19 405.20h5.89v3.85h-5.89zM336.86 405.20h5.89v3.85h-5.89zM148.25 409.00h11.79v3.85h-11.79zM207.19 409.00h5.89v3.85h-5.89zM154.14 412.80h5.89v3.85h-5.89zM342.75 412.80h5.89v3.85h-5.89zM336.86 416.60h5.89v3.85h-5.89zM389.90 416.60h5.89v3.85h-5.89z"/>
<path fill="#a542fc" d="M65.73 302.60h35.36v3.85h-35.36zM106.99 302.60h17.68v3.85h-17.68zM130.57 302.60h41.26v3.85h-41.26zM189.51 302.60h5.89v3.85h-5.89zM260.24 302.60h23.58v3.85h-23.58zM59.84 306.40h41.26v3.85h-41.26zM118.78 306.40h53.05v3.85h-53.05zM177.72 306.40h17.68v3.85h-17.68zM236.66 306.40h5.89v3.85h-5.89zM260.24 306.40h47.15v3.85h-47.15zM59.84 310.20h11.79v3.85h-11.79zM77.52 310.20h29.47v3.85h-29.47zM118.78 310.20h17.68v3.85h-17.68zM165.93 310.20h5.89v3.85h-5.89zM177.72 310.20h17.68v3.85h-17.68zM236.66 310.20h5.89v3.85h-5.89zM260.24 310.20h58.94v3.85h-58.94zM59.84 314.00h11.79v3.85h-11.79zM77.52 314.00h11.79v3.85h-11.79zM95.20 314.00h11.79v3.85h-11.79zM112.89 314.00h5.89v3.85h-5.89zM130.57 314.00h5.89v3.85h-5.89zM165.93 314.00h5.89v3.85h-5.89zM177.72 314.00h11.79v3.85h-11.79zM236.66 314.00h11.79v3.85h-11.79zM260.24 314.00h64.83v3.85h-64.83zM59.84 317.80h17.68v3.85h-17.68zM83.42 317.80h5.89v3.85h-5.89zM95.20 317.80h11.79v3.85h-11.79zM112.89 317.80h5.89v3.85h-5.89zM177.72 317.80h11.79v3.85h-11.79zM236.66 317.80h47.15v3.85h-47.15zM295.60 317.80h35.36v3.85h-35.36zM59.84 321.60h23.58v3.85h-23.58zM95.20 321.60h5.89v3.85h-5.89zM177.72 321.60h11.79v3.85h-11.79zM230.77 321.60h35.36v3.85h-35.36zM272.02 321.60h11.79v3.85h-11.79zM307.39 321.60h5.89v3.85h-5.89zM319.18 321.60h11.79v3.85h-11.79zM59.84 325.40h41.26v3.85h-41.26zM160.04 325.40h29.47v3.85h-29.47zM224.87 325.40h53.05v3.85h-53.05zM319.18 325.40h11.79v3.85h-11.79zM59.84 329.20h17.68v3.85h-17.68zM160.04 329.20h17.68v3.85h-17.68zM218.98 329.20h17.68v3.85h-17.68zM266.13 329.20h11.79v3.85h-11.79zM319.18 329.20h17.68v3.85h-17.68zM342.75 329.20h5.89v3.85h-5.89zM59.84 333.00h23.58v3.85h-23.58zM89.31 333.00h11.79v3.85h-11.79zM148.25 333.00h5.89v3.85h-5.89zM160.04 333.00h11.79v3.85h-11.79zM218.98 333.00h5.89v3.85h-5.89zM236.66 333.00h5.89v3.85h-5.89zM266.13 333.00h11.79v3.85h-11.79zM325.07 333.00h11.79v3.85h-11.79zM342.75 333.00h5.89v3.85h-5.89zM59.84 336.80h17.68v3.85h-17.68zM83.42 336.80h23.58v3.85h-23.58zM136.46 336.80h17.68v3.85h-17.68zM160.04 336.80h11.79v3.85h-11.79zM242.55 336.80h5.89v3.85h-5.89zM325.07 336.80h11.79v3.85h-11.79zM59.84 340.60h58.94v3.85h-58.94zM130.57 340.60h23.58v3.85h-23.58zM160.04 340.60h11.79v3.85h-11.79zM272.02 340.60h5.89v3.85h-5.89zM325.07 340.60h17.68v3.85h-17.68zM59.84 344.40h94.30v3.85h-94.30zM165.93 344.40h17.68v3.85h-17.68zM266.13 344.40h17.68v3.85h-17.68zM330.96 344.40h17.68v3.85h-17.68zM59.84 348.20h94.30v3.85h-94.30zM260.24 348.20h23.58v3.85h-23.58zM330.96 348.20h17.68v3.85h-17.68zM59.84 352.00h29.47v3.85h-29.47zM95.20 352.00h17.68v3.85h-17.68zM118.78 352.00h35.36v3.85h-35.36zM195.40 352.00h5.89v3.85h-5.89zM260.24 352.00h29.47v3.85h-29.47zM336.86 352.00h5.89v3.85h-5.89zM348.65 352.00h5.89v3.85h-5.89zM59.84 355.80h41.26v3.85h-41.26zM106.99 355.80h5.89v3.85h-5.89zM118.78 355.80h5.89v3.85h-5.89zM130.57 355.80h11.79v3.85h-11.79zM148.25 355.80h5.89v3.85h-5.89zM201.30 355.80h5.89v3.85h-5.89zM254.34 355.80h5.89v3.85h-5.89zM266.13 355.80h29.47v3.85h-29.47zM336.86 355.80h5.89v3.85h-5.89zM348.65 355.80h11.79v3.85h-11.79zM59.84 359.60h41.26v3.85h-41.26zM106.99 359.60h5.89v3.85h-5.89zM118.78 359.60h5.89v3.85h-5.89zM130.57 359.60h11.79v3.85h-11.79zM148.25 359.60h5.89v3.85h-5.89zM201.30 359.60h11.79v3.85h-11.79zM230.77 359.60h17.68v3.85h-17.68zM254.34 359.60h5.89v3.85h-5.89zM266.13 359.60h29.47v3.85h-29.47zM336.86 359.60h5.89v3.85h-5.89zM354.54 359.60h5.89v3.85h-5.89zM59.84 363.40h41.26v3.85h-41.26zM118.78 363.40h29.47v3.85h-29.47zM189.51 363.40h29.47v3.85h-29.47zM224.87 363.40h23.58v3.85h-23.58zM354.54 363.40h11.79v3.85h-11.79zM59.84 367.20h5.89v3.85h-5.89zM71.63 367.20h29.47v3.85h-29.47zM118.78 367.20h35.36v3.85h-35.36zM177.72 367.20h41.26v3.85h-41.26zM230.77 367.20h5.89v3.85h-5.89zM360.43 367.20h17.68v3.85h-17.68zM59.84 371.00h5.89v3.85h-5.89zM71.63 371.00h23.58v3.85h-23.58zM118.78 371.00h35.36v3.85h-35.36zM171.83 371.00h47.15v3.85h-47.15zM289.71 371.00h5.89v3.85h-5.89zM360.43 371.00h29.47v3.85h-29.47zM59.84 374.80h5.89v3.85h-5.89zM71.63 374.80h23.58v3.85h-23.58zM118.78 374.80h41.26v3.85h-41.26zM171.83 374.80h47.15v3.85h-47.15zM289.71 374.80h5.89v3.85h-5.89zM366.33 374.80h29.47v3.85h-29.47zM59.84 378.60h29.47v3.85h-29.47zM118.78 378.60h47.15v3.85h-47.15zM171.83 378.60h53.05v3.85h-53.05zM289.71 378.60h5.89v3.85h-5.89zM372.22 378.60h23.58v3.85h-23.58zM65.73 382.40h23.58v3.85h-23.58zM112.89 382.40h58.94v3.85h-58.94zM177.72 382.40h53.05v3.85h-53.05zM248.45 382.40h5.89v3.85h-5.89zM378.12 382.40h23.58v3.85h-23.58zM59.84 386.20h5.89v3.85h-5.89zM71.63 386.20h23.58v3.85h-23.58zM112.89 386.20h58.94v3.85h-58.94zM183.61 386.20h53.05v3.85h-53.05zM248.45 386.20h17.68v3.85h-17.68zM384.01 386.20h23.58v3.85h-23.58zM59.84 390.00h11.79v3.85h-11.79zM77.52 390.00h5.89v3.85h-5.89zM89.31 390.00h11.79v3.85h-11.79zM106.99 390.00h70.73v3.85h-70.73zM189.51 390.00h94.30v3.85h-94.30zM389.90 390.00h23.58v3.85h-23.58zM59.84 393.80h23.58v3.85h-23.58zM89.31 393.80h35.36v3.85h-35.36zM130.57 393.80h53.05v3.85h-53.05zM195.40 393.80h100.20v3.85h-100.20zM395.80 393.80h23.58v3.85h-23.58zM59.84 397.60h17.68v3.85h-17.68zM83.42 397.60h47.15v3.85h-47.15zM136.46 397.60h53.05v3.85h-53.05zM201.30 397.60h106.09v3.85h-106.09zM354.54 397.60h5.89v3.85h-5.89zM401.69 397.60h41.26v3.85h-41.26zM59.84 401.40h76.62v3.85h-76.62zM142.36 401.40h53.05v3.85h-53.05zM207.19 401.40h111.99v3.85h-111.99zM348.65 401.40h11.79v3.85h-11.79zM407.59 401.40h41.26v3.85h-41.26zM59.84 405.20h23.58v3.85h-23.58zM89.31 405.20h53.05v3.85h-53.05zM148.25 405.20h5.89v3.85h-5.89zM160.04 405.20h41.26v3.85h-41.26zM213.08 405.20h106.09v3.85h-106.09zM348.65 405.20h11.79v3.85h-11.79zM407.59 405.20h41.26v3.85h-41.26zM59.84 409.00h41.26v3.85h-41.26zM106.99 409.00h41.26v3.85h-41.26zM160.04 409.00h47.15v3.85h-47.15zM218.98 409.00h106.09v3.85h-106.09zM354.54 409.00h5.89v3.85h-5.89zM413.48 409.00h35.36v3.85h-35.36zM59.84 412.80h88.41v3.85h-88.41zM160.04 412.80h47.15v3.85h-47.15zM218.98 412.80h111.99v3.85h-111.99zM413.48 412.80h35.36v3.85h-35.36zM59.84 416.60h94.30v3.85h-94.30zM160.04 416.60h176.82v3.85h-176.82zM413.48 416.60h35.36v3.85h-35.36z"/>
<path fill="#e8d702" d="M101.10 302.60h5.89v3.85h-5.89z"/>
<path fill="#2b62ff" d="M124.67 302.60h5.89v3.85h-5.89zM177.72 302.60h11.79v3.85h-11.79zM77.52 317.80h5.89v3.85h-5.89zM77.52 329.20h5.89v3.85h-5.89zM118.78 329.20h11.79v3.85h-11.79zM89.31 352.00h5.89v3.85h-5.89zM106.99 363.40h5.89v3.85h-5.89zM218.98 363.40h5.89v3.85h-5.89zM254.34 363.40h5.89v3.85h-5.89zM307.39 363.40h5.89v3.85h-5.89zM254.34 367.20h5.89v3.85h-5.89zM307.39 367.20h5.89v3.85h-5.89zM283.81 382.40h5.89v3.85h-5.89zM283.81 386.20h5.89v3.85h-5.89zM342.75 386.20h5.89v3.85h-5.89zM313.28 393.80h5.89v3.85h-5.89zM319.18 397.60h5.89v3.85h-5.89zM319.18 401.40h11.79v3.85h-11.79zM325.07 405.20h11.79v3.85h-11.79zM330.96 409.00h11.79v3.85h-11.79zM336.86 412.80h5.89v3.85h-5.89z"/>
<path fill="#b734fb" d="M230.77 302.60h11.79v3.85h-11.79zM283.81 302.60h29.47v3.85h-29.47zM319.18 302.60h5.89v3.85h-5.89zM112.89 306.40h5.89v3.85h-5.89zM230.77 306.40h5.89v3.85h-5.89zM242.55 306.40h5.89v3.85h-5.89zM254.34 306.40h5.89v3.85h-5.89zM307.39 306.40h17.68v3.85h-17.68zM378.12 306.40h5.89v3.85h-5.89zM112.89 310.20h5.89v3.85h-5.89zM230.77 310.20h5.89v3.85h-5.89zM242.55 310.20h11.79v3.85h-11.79zM319.18 310.20h11.79v3.85h-11.79zM389.90 310.20h11.79v3.85h-11.79zM189.51 314.00h5.89v3.85h-5.89zM230.77 314.00h5.89v3.85h-5.89zM248.45 314.00h5.89v3.85h-5.89zM325.07 314.00h11.79v3.85h-11.79zM389.90 314.00h11.79v3.85h-11.79zM189.51 317.80h11.79v3.85h-11.79zM207.19 317.80h11.79v3.85h-11.79zM230.77 317.80h5.89v3.85h-5.89zM330.96 317.80h5.89v3.85h-5.89zM401.69 317.80h5.89v3.85h-5.89zM83.42 321.60h5.89v3.85h-5.89zM189.51 321.60h11.79v3.85h-11.79zM207.19 321.60h23.58v3.85h-23.58zM266.13 321.60h5.89v3.85h-5.89zM330.96 321.60h11.79v3.85h-11.79zM189.51 325.40h35.36v3.85h-35.36zM336.86 325.40h17.68v3.85h-17.68zM407.59 325.40h5.89v3.85h-5.89zM177.72 329.20h41.26v3.85h-41.26zM336.86 329.20h5.89v3.85h-5.89zM348.65 329.20h5.89v3.85h-5.89zM407.59 329.20h11.79v3.85h-11.79zM171.83 333.00h11.79v3.85h-11.79zM189.51 333.00h5.89v3.85h-5.89zM213.08 333.00h5.89v3.85h-5.89zM224.87 333.00h5.89v3.85h-5.89zM336.86 333.00h5.89v3.85h-5.89zM348.65 333.00h5.89v3.85h-5.89zM407.59 333.00h17.68v3.85h-17.68zM171.83 336.80h5.89v3.85h-5.89zM272.02 336.80h5.89v3.85h-5.89zM336.86 336.80h11.79v3.85h-11.79zM413.48 336.80h17.68v3.85h-17.68zM171.83 340.60h11.79v3.85h-11.79zM413.48 340.60h17.68v3.85h-17.68zM183.61 344.40h11.79v3.85h-11.79zM354.54 344.40h5.89v3.85h-5.89zM425.27 344.40h5.89v3.85h-5.89zM195.40 348.20h11.79v3.85h-11.79zM242.55 348.20h5.89v3.85h-5.89zM254.34 348.20h5.89v3.85h-5.89zM348.65 348.20h17.68v3.85h-17.68zM425.27 348.20h23.58v3.85h-23.58zM201.30 352.00h5.89v3.85h-5.89zM236.66 352.00h5.89v3.85h-5.89zM248.45 352.00h11.79v3.85h-11.79zM354.54 352.00h17.68v3.85h-17.68zM431.16 352.00h17.68v3.85h-17.68zM101.10 355.80h5.89v3.85h-5.89zM207.19 355.80h41.26v3.85h-41.26zM260.24 355.80h5.89v3.85h-5.89zM360.43 355.80h11.79v3.85h-11.79zM431.16 355.80h17.68v3.85h-17.68zM101.10 359.60h5.89v3.85h-5.89zM213.08 359.60h17.68v3.85h-17.68zM260.24 359.60h5.89v3.85h-5.89zM360.43 359.60h11.79v3.85h-11.79zM437.06 359.60h5.89v3.85h-5.89zM366.33 363.40h11.79v3.85h-11.79zM65.73 367.20h5.89v3.85h-5.89zM378.12 367.20h17.68v3.85h-17.68zM65.73 371.00h5.89v3.85h-5.89zM389.90 371.00h5.89v3.85h-5.89zM65.73 374.80h5.89v3.85h-5.89zM283.81 374.80h5.89v3.85h-5.89zM395.80 374.80h5.89v3.85h-5.89zM283.81 378.60h5.89v3.85h-5.89zM395.80 378.60h5.89v3.85h-5.89zM401.69 382.40h5.89v3.85h-5.89zM407.59 386.20h5.89v3.85h-5.89zM437.06 386.20h5.89v3.85h-5.89zM413.48 390.00h5.89v3.85h-5.89zM425.27 390.00h17.68v3.85h-17.68zM419.37 393.80h29.47v3.85h-29.47zM442.95 397.60h5.89v3.85h-5.89z"/>
<path fill="#67a1c9" d="M101.10 306.40h5.89v3.85h-5.89zM195.40 306.40h5.89v3.85h-5.89zM165.93 321.60h5.89v3.85h-5.89z"/>
<path fill="#8c4efd" d="M106.99 306.40h5.89v3.85h-5.89zM106.99 310.20h5.89v3.85h-5.89zM136.46 310.20h29.47v3.85h-29.47zM71.63 314.00h5.89v3.85h-5.89zM106.99 314.00h5.89v3.85h-5.89zM118.78 314.00h11.79v3.85h-11.79zM136.46 314.00h23.58v3.85h-23.58zM106.99 317.80h5.89v3.85h-5.89zM118.78 317.80h47.15v3.85h-47.15zM283.81 317.80h11.79v3.85h-11.79zM89.31 321.60h5.89v3.85h-5.89zM101.10 321.60h17.68v3.85h-17.68zM130.57 321.60h35.36v3.85h-35.36zM283.81 321.60h23.58v3.85h-23.58zM313.28 321.60h5.89v3.85h-5.89zM106.99 325.40h11.79v3.85h-11.79zM130.57 325.40h29.47v3.85h-29.47zM277.92 325.40h41.26v3.85h-41.26zM83.42 329.20h17.68v3.85h-17.68zM106.99 329.20h11.79v3.85h-11.79zM130.57 329.20h29.47v3.85h-29.47zM236.66 329.20h29.47v3.85h-29.47zM277.92 329.20h41.26v3.85h-41.26zM83.42 333.00h5.89v3.85h-5.89zM101.10 333.00h17.68v3.85h-17.68zM130.57 333.00h17.68v3.85h-17.68zM154.14 333.00h5.89v3.85h-5.89zM242.55 333.00h11.79v3.85h-11.79zM260.24 333.00h5.89v3.85h-5.89zM277.92 333.00h47.15v3.85h-47.15zM112.89 336.80h11.79v3.85h-11.79zM130.57 336.80h5.89v3.85h-5.89zM154.14 336.80h5.89v3.85h-5.89zM248.45 336.80h5.89v3.85h-5.89zM260.24 336.80h11.79v3.85h-11.79zM277.92 336.80h23.58v3.85h-23.58zM319.18 336.80h5.89v3.85h-5.89zM118.78 340.60h11.79v3.85h-11.79zM154.14 340.60h5.89v3.85h-5.89zM248.45 340.60h5.89v3.85h-5.89zM260.24 340.60h11.79v3.85h-11.79zM277.92 340.60h23.58v3.85h-23.58zM313.28 340.60h11.79v3.85h-11.79zM154.14 344.40h11.79v3.85h-11.79zM254.34 344.40h11.79v3.85h-11.79zM283.81 344.40h47.15v3.85h-47.15zM154.14 348.20h29.47v3.85h-29.47zM189.51 348.20h5.89v3.85h-5.89zM283.81 348.20h47.15v3.85h-47.15zM154.14 352.00h41.26v3.85h-41.26zM289.71 352.00h47.15v3.85h-47.15zM342.75 352.00h5.89v3.85h-5.89zM142.36 355.80h5.89v3.85h-5.89zM154.14 355.80h47.15v3.85h-47.15zM248.45 355.80h5.89v3.85h-5.89zM295.60 355.80h41.26v3.85h-41.26zM342.75 355.80h5.89v3.85h-5.89zM112.89 359.60h5.89v3.85h-5.89zM124.67 359.60h5.89v3.85h-5.89zM142.36 359.60h5.89v3.85h-5.89zM154.14 359.60h47.15v3.85h-47.15zM248.45 359.60h5.89v3.85h-5.89zM295.60 359.60h41.26v3.85h-41.26zM342.75 359.60h11.79v3.85h-11.79zM101.10 363.40h5.89v3.85h-5.89zM112.89 363.40h5.89v3.85h-5.89zM148.25 363.40h41.26v3.85h-41.26zM248.45 363.40h5.89v3.85h-5.89zM260.24 363.40h47.15v3.85h-47.15zM313.28 363.40h41.26v3.85h-41.26zM112.89 367.20h5.89v3.85h-5.89zM154.14 367.20h23.58v3.85h-23.58zM224.87 367.20h5.89v3.85h-5.89zM236.66 367.20h17.68v3.85h-17.68zM260.24 367.20h47.15v3.85h-47.15zM313.28 367.20h47.15v3.85h-47.15zM95.20 371.00h23.58v3.85h-23.58zM154.14 371.00h17.68v3.85h-17.68zM218.98 371.00h70.73v3.85h-70.73zM295.60 371.00h64.83v3.85h-64.83zM95.20 374.80h23.58v3.85h-23.58zM160.04 374.80h11.79v3.85h-11.79zM218.98 374.80h47.15v3.85h-47.15zM295.60 374.80h29.47v3.85h-29.47zM330.96 374.80h35.36v3.85h-35.36zM89.31 378.60h29.47v3.85h-29.47zM165.93 378.60h5.89v3.85h-5.89zM224.87 378.60h47.15v3.85h-47.15zM295.60 378.60h5.89v3.85h-5.89zM307.39 378.60h64.83v3.85h-64.83zM59.84 382.40h5.89v3.85h-5.89zM89.31 382.40h23.58v3.85h-23.58zM171.83 382.40h5.89v3.85h-5.89zM230.77 382.40h17.68v3.85h-17.68zM254.34 382.40h29.47v3.85h-29.47zM289.71 382.40h5.89v3.85h-5.89zM313.28 382.40h64.83v3.85h-64.83zM65.73 386.20h5.89v3.85h-5.89zM95.20 386.20h17.68v3.85h-17.68zM177.72 386.20h5.89v3.85h-5.89zM236.66 386.20h11.79v3.85h-11.79zM266.13 386.20h17.68v3.85h-17.68zM301.49 386.20h5.89v3.85h-5.89zM313.28 386.20h29.47v3.85h-29.47zM348.65 386.20h35.36v3.85h-35.36zM71.63 390.00h5.89v3.85h-5.89zM101.10 390.00h5.89v3.85h-5.89zM177.72 390.00h11.79v3.85h-11.79zM289.71 390.00h17.68v3.85h-17.68zM319.18 390.00h70.73v3.85h-70.73zM124.67 393.80h5.89v3.85h-5.89zM183.61 393.80h11.79v3.85h-11.79zM295.60 393.80h17.68v3.85h-17.68zM325.07 393.80h70.73v3.85h-70.73zM77.52 397.60h5.89v3.85h-5.89zM130.57 397.60h5.89v3.85h-5.89zM189.51 397.60h11.79v3.85h-11.79zM307.39 397.60h5.89v3.85h-5.89zM330.96 397.60h23.58v3.85h-23.58zM360.43 397.60h41.26v3.85h-41.26zM136.46 401.40h5.89v3.85h-5.89zM195.40 401.40h11.79v3.85h-11.79zM336.86 401.40h11.79v3.85h-11.79zM360.43 401.40h47.15v3.85h-47.15zM83.42 405.20h5.89v3.85h-5.89zM142.36 405.20h5.89v3.85h-5.89zM154.14 405.20h5.89v3.85h-5.89zM201.30 405.20h5.89v3.85h-5.89zM319.18 405.20h5.89v3.85h-5.89zM342.75 405.20h5.89v3.85h-5.89zM360.43 405.20h47.15v3.85h-47.15zM213.08 409.00h5.89v3.85h-5.89zM325.07 409.00h5.89v3.85h-5.89zM342.75 409.00h11.79v3.85h-11.79zM360.43 409.00h53.05v3.85h-53.05zM148.25 412.80h5.89v3.85h-5.89zM207.19 412.80h11.79v3.85h-11.79zM330.96 412.80h5.89v3.85h-5.89zM348.65 412.80h64.83v3.85h-64.83zM154.14 416.60h5.89v3.85h-5.89zM342.75 416.60h47.15v3.85h-47.15zM395.80 416.60h17.68v3.85h-17.68z"/>
<path fill="#5882e4" d="M254.34 340.60h5.89v3.85h-5.89z"/>
<path fill="#c2fa2b" d="M83.42 390.00h5.89v3.85h-5.89zM101.10 409.00h5.89v3.85h-5.89z"/>
<path fill="#ff2408" d="M83.42 393.80h5.89v3.85h-5.89z"/></g>
<rect x="40.5" y="296.8" width="428.2" height="128.5" fill="none" stroke="#8a8a8a" stroke-width="1"/>
<line x1="38.2" x2="40.5" y1="422.60" y2="422.60" stroke="#333" stroke-width="0.9"/>
<text class="tk" x="35.9" y="425.25" text-anchor="end">0</text>
<line x1="38.2" x2="40.5" y1="384.57" y2="384.57" stroke="#333" stroke-width="0.9"/>
<text class="tk" x="35.9" y="387.22" text-anchor="end">1000</text>
<line x1="38.2" x2="40.5" y1="346.54" y2="346.54" stroke="#333" stroke-width="0.9"/>
<text class="tk" x="35.9" y="349.19" text-anchor="end">2000</text>
<line x1="38.2" x2="40.5" y1="308.51" y2="308.51" stroke="#333" stroke-width="0.9"/>
<text class="tk" x="35.9" y="311.16" text-anchor="end">3000</text>
<text class="ti" transform="translate(15.4 361.1) rotate(-90)" text-anchor="middle">Height [m]</text>
</g>
<g>
<line x1="40.5" x2="468.7" y1="509.90" y2="509.90" stroke="#f0f0f0" stroke-width="0.5"/>
<line x1="40.5" x2="468.7" y1="490.90" y2="490.90" stroke="#f0f0f0" stroke-width="0.5"/>
<line x1="40.5" x2="468.7" y1="471.90" y2="471.90" stroke="#f0f0f0" stroke-width="0.5"/>
<line x1="40.5" x2="468.7" y1="452.90" y2="452.90" stroke="#f0f0f0" stroke-width="0.5"/>
<line x1="80.80" x2="80.80" y1="442.1" y2="522.2" stroke="#f0f0f0" stroke-width="0.5"/>
<line x1="170.60" x2="170.60" y1="442.1" y2="522.2" stroke="#f0f0f0" stroke-width="0.5"/>
<line x1="260.50" x2="260.50" y1="442.1" y2="522.2" stroke="#f0f0f0" stroke-width="0.5"/>
<line x1="350.30" x2="350.30" y1="442.1" y2="522.2" stroke="#f0f0f0" stroke-width="0.5"/>
<line x1="440.10" x2="440.10" y1="442.1" y2="522.2" stroke="#f0f0f0" stroke-width="0.5"/>
<line x1="40.5" x2="468.7" y1="519.40" y2="519.40" stroke="#e8e8e8" stroke-width="0.9"/>
<line x1="40.5" x2="468.7" y1="500.40" y2="500.40" stroke="#e8e8e8" stroke-width="0.9"/>
<line x1="40.5" x2="468.7" y1="481.40" y2="481.40" stroke="#e8e8e8" stroke-width="0.9"/>
<line x1="40.5" x2="468.7" y1="462.40" y2="462.40" stroke="#e8e8e8" stroke-width="0.9"/>
<line x1="40.5" x2="468.7" y1="443.40" y2="443.40" stroke="#e8e8e8" stroke-width="0.9"/>
<line x1="125.70" x2="125.70" y1="442.1" y2="522.2" stroke="#e8e8e8" stroke-width="0.9"/>
<line x1="215.55" x2="215.55" y1="442.1" y2="522.2" stroke="#e8e8e8" stroke-width="0.9"/>
<line x1="305.40" x2="305.40" y1="442.1" y2="522.2" stroke="#e8e8e8" stroke-width="0.9"/>
<line x1="395.25" x2="395.25" y1="442.1" y2="522.2" stroke="#e8e8e8" stroke-width="0.9"/>
<circle cx="59.80" cy="519.80" r="2.3" fill="#fff" fill-opacity=".6" stroke="#505050" stroke-width="0.75"/>
<circle cx="65.80" cy="519.80" r="2.3" fill="#fff" fill-opacity=".6" stroke="#505050" stroke-width="0.75"/>
<circle cx="71.79" cy="519.23" r="2.3" fill="#fff" fill-opacity=".6" stroke="#505050" stroke-width="0.75"/>
<circle cx="77.78" cy="518.85" r="2.3" fill="#fff" fill-opacity=".6" stroke="#505050" stroke-width="0.75"/>
<circle cx="83.78" cy="518.85" r="2.3" fill="#fff" fill-opacity=".6" stroke="#505050" stroke-width="0.75"/>
<circle cx="89.78" cy="518.66" r="2.3" fill="#fff" fill-opacity=".6" stroke="#505050" stroke-width="0.75"/>
<circle cx="95.77" cy="517.90" r="2.3" fill="#fff" fill-opacity=".6" stroke="#505050" stroke-width="0.75"/>
<path d="M94.17 516.30l3.2 3.2m0 -3.2l-3.2 3.2" stroke="#e01010" stroke-width="1.3" fill="none"/>
<path d="M101.77 495.90l2.8 4.9h-5.6z" fill="#858585" stroke="#333" stroke-width="0.8"/>
<path d="M107.76 442.70l2.8 4.9h-5.6z" fill="#858585" stroke="#333" stroke-width="0.8"/>
<path d="M113.75 456.95l2.8 4.9h-5.6z" fill="#858585" stroke="#333" stroke-width="0.8"/>
<path d="M119.75 472.15l2.8 4.9h-5.6z" fill="#858585" stroke="#333" stroke-width="0.8"/>
<path d="M125.75 465.50l2.8 4.9h-5.6z" fill="#858585" stroke="#333" stroke-width="0.8"/>
<path d="M131.74 488.30l2.8 4.9h-5.6z" fill="#858585" stroke="#333" stroke-width="0.8"/>
<path d="M137.74 498.75l2.8 4.9h-5.6z" fill="#858585" stroke="#333" stroke-width="0.8"/>
<path d="M143.73 503.50l2.8 4.9h-5.6z" fill="#858585" stroke="#333" stroke-width="0.8"/>
<circle cx="149.72" cy="512.96" r="2.3" fill="#fff" fill-opacity=".6" stroke="#505050" stroke-width="0.75"/>
<circle cx="155.72" cy="513.72" r="2.3" fill="#fff" fill-opacity=".6" stroke="#505050" stroke-width="0.75"/>
<circle cx="161.72" cy="515.62" r="2.3" fill="#fff" fill-opacity=".6" stroke="#505050" stroke-width="0.75"/>
<path d="M160.12 514.02l3.2 3.2m0 -3.2l-3.2 3.2" stroke="#e01010" stroke-width="1.3" fill="none"/>
<path d="M167.71 508.82l2.8 4.9h-5.6z" fill="#858585" stroke="#333" stroke-width="0.8"/>
<circle cx="173.70" cy="514.10" r="2.3" fill="#fff" fill-opacity=".6" stroke="#505050" stroke-width="0.75"/>
<path d="M172.10 512.50l3.2 3.2m0 -3.2l-3.2 3.2" stroke="#e01010" stroke-width="1.3" fill="none"/>
<path d="M179.70 507.30l2.8 4.9h-5.6z" fill="#858585" stroke="#333" stroke-width="0.8"/>
<path d="M178.20 509.10l3 3m0 -3l-3 3" stroke="#e81010" stroke-width="1.4" fill="none"/>
<path d="M185.69 507.30l2.8 4.9h-5.6z" fill="#858585" stroke="#333" stroke-width="0.8"/>
<path d="M191.69 508.63l2.8 4.9h-5.6z" fill="#858585" stroke="#333" stroke-width="0.8"/>
<path d="M197.69 509.20l2.8 4.9h-5.6z" fill="#858585" stroke="#333" stroke-width="0.8"/>
<path d="M196.19 511.00l3 3m0 -3l-3 3" stroke="#e81010" stroke-width="1.4" fill="none"/>
<circle cx="203.68" cy="513.53" r="2.3" fill="#fff" fill-opacity=".6" stroke="#505050" stroke-width="0.75"/>
<circle cx="209.68" cy="514.10" r="2.3" fill="#fff" fill-opacity=".6" stroke="#505050" stroke-width="0.75"/>
<circle cx="215.67" cy="515.43" r="2.3" fill="#fff" fill-opacity=".6" stroke="#505050" stroke-width="0.75"/>
<circle cx="221.67" cy="515.05" r="2.3" fill="#fff" fill-opacity=".6" stroke="#505050" stroke-width="0.75"/>
<circle cx="227.66" cy="514.48" r="2.3" fill="#fff" fill-opacity=".6" stroke="#505050" stroke-width="0.75"/>
<circle cx="233.65" cy="516.00" r="2.3" fill="#fff" fill-opacity=".6" stroke="#505050" stroke-width="0.75"/>
<circle cx="239.65" cy="516.76" r="2.3" fill="#fff" fill-opacity=".6" stroke="#505050" stroke-width="0.75"/>
<circle cx="245.64" cy="516.76" r="2.3" fill="#fff" fill-opacity=".6" stroke="#505050" stroke-width="0.75"/>
<circle cx="251.64" cy="516.38" r="2.3" fill="#fff" fill-opacity=".6" stroke="#505050" stroke-width="0.75"/>
<circle cx="257.63" cy="516.00" r="2.3" fill="#fff" fill-opacity=".6" stroke="#505050" stroke-width="0.75"/>
<circle cx="263.63" cy="516.00" r="2.3" fill="#fff" fill-opacity=".6" stroke="#505050" stroke-width="0.75"/>
<circle cx="269.62" cy="515.62" r="2.3" fill="#fff" fill-opacity=".6" stroke="#505050" stroke-width="0.75"/>
<circle cx="275.62" cy="515.43" r="2.3" fill="#fff" fill-opacity=".6" stroke="#505050" stroke-width="0.75"/>
<circle cx="281.62" cy="516.00" r="2.3" fill="#fff" fill-opacity=".6" stroke="#505050" stroke-width="0.75"/>
<circle cx="287.61" cy="516.76" r="2.3" fill="#fff" fill-opacity=".6" stroke="#505050" stroke-width="0.75"/>
<circle cx="293.61" cy="517.14" r="2.3" fill="#fff" fill-opacity=".6" stroke="#505050" stroke-width="0.75"/>
<circle cx="299.60" cy="516.95" r="2.3" fill="#fff" fill-opacity=".6" stroke="#505050" stroke-width="0.75"/>
<circle cx="305.60" cy="516.76" r="2.3" fill="#fff" fill-opacity=".6" stroke="#505050" stroke-width="0.75"/>
<circle cx="311.59" cy="517.14" r="2.3" fill="#fff" fill-opacity=".6" stroke="#505050" stroke-width="0.75"/>
<circle cx="317.59" cy="517.33" r="2.3" fill="#fff" fill-opacity=".6" stroke="#505050" stroke-width="0.75"/>
<circle cx="323.58" cy="517.52" r="2.3" fill="#fff" fill-opacity=".6" stroke="#505050" stroke-width="0.75"/>
<circle cx="329.57" cy="517.71" r="2.3" fill="#fff" fill-opacity=".6" stroke="#505050" stroke-width="0.75"/>
<circle cx="335.57" cy="517.90" r="2.3" fill="#fff" fill-opacity=".6" stroke="#505050" stroke-width="0.75"/>
<circle cx="341.56" cy="518.09" r="2.3" fill="#fff" fill-opacity=".6" stroke="#505050" stroke-width="0.75"/>
<circle cx="347.56" cy="518.28" r="2.3" fill="#fff" fill-opacity=".6" stroke="#505050" stroke-width="0.75"/>
<circle cx="353.56" cy="518.47" r="2.3" fill="#fff" fill-opacity=".6" stroke="#505050" stroke-width="0.75"/>
<circle cx="359.55" cy="518.66" r="2.3" fill="#fff" fill-opacity=".6" stroke="#505050" stroke-width="0.75"/>
<circle cx="365.55" cy="518.85" r="2.3" fill="#fff" fill-opacity=".6" stroke="#505050" stroke-width="0.75"/>
<circle cx="371.54" cy="518.85" r="2.3" fill="#fff" fill-opacity=".6" stroke="#505050" stroke-width="0.75"/>
<circle cx="377.54" cy="519.04" r="2.3" fill="#fff" fill-opacity=".6" stroke="#505050" stroke-width="0.75"/>
<circle cx="383.53" cy="519.04" r="2.3" fill="#fff" fill-opacity=".6" stroke="#505050" stroke-width="0.75"/>
<circle cx="389.53" cy="519.23" r="2.3" fill="#fff" fill-opacity=".6" stroke="#505050" stroke-width="0.75"/>
<circle cx="395.52" cy="519.23" r="2.3" fill="#fff" fill-opacity=".6" stroke="#505050" stroke-width="0.75"/>
<circle cx="401.52" cy="519.23" r="2.3" fill="#fff" fill-opacity=".6" stroke="#505050" stroke-width="0.75"/>
<circle cx="407.51" cy="519.23" r="2.3" fill="#fff" fill-opacity=".6" stroke="#505050" stroke-width="0.75"/>
<circle cx="413.50" cy="519.42" r="2.3" fill="#fff" fill-opacity=".6" stroke="#505050" stroke-width="0.75"/>
<circle cx="419.50" cy="519.42" r="2.3" fill="#fff" fill-opacity=".6" stroke="#505050" stroke-width="0.75"/>
<circle cx="425.50" cy="519.42" r="2.3" fill="#fff" fill-opacity=".6" stroke="#505050" stroke-width="0.75"/>
<circle cx="431.49" cy="519.42" r="2.3" fill="#fff" fill-opacity=".6" stroke="#505050" stroke-width="0.75"/>
<circle cx="437.49" cy="519.42" r="2.3" fill="#fff" fill-opacity=".6" stroke="#505050" stroke-width="0.75"/>
<circle cx="443.48" cy="519.42" r="2.3" fill="#fff" fill-opacity=".6" stroke="#505050" stroke-width="0.75"/>
<circle cx="449.48" cy="519.42" r="2.3" fill="#fff" fill-opacity=".6" stroke="#505050" stroke-width="0.75"/>
<rect x="40.5" y="442.1" width="428.2" height="80.1" fill="none" stroke="#8a8a8a" stroke-width="1"/>
<line x1="38.2" x2="40.5" y1="519.40" y2="519.40" stroke="#333" stroke-width="0.9"/>
<text class="tk" x="35.9" y="522.05" text-anchor="end">0</text>
<line x1="38.2" x2="40.5" y1="500.40" y2="500.40" stroke="#333" stroke-width="0.9"/>
<text class="tk" x="35.9" y="503.05" text-anchor="end">10</text>
<line x1="38.2" x2="40.5" y1="481.40" y2="481.40" stroke="#333" stroke-width="0.9"/>
<text class="tk" x="35.9" y="484.05" text-anchor="end">20</text>
<line x1="38.2" x2="40.5" y1="462.40" y2="462.40" stroke="#333" stroke-width="0.9"/>
<text class="tk" x="35.9" y="465.05" text-anchor="end">30</text>
<line x1="38.2" x2="40.5" y1="443.40" y2="443.40" stroke="#333" stroke-width="0.9"/>
<text class="tk" x="35.9" y="446.05" text-anchor="end">40</text>
<text class="ti" transform="translate(15.4 482.0) rotate(-90)" text-anchor="middle">R [mm/h]</text>
</g>
<line x1="125.70" x2="125.70" y1="522.2" y2="524.6" stroke="#333" stroke-width="0.9"/>
<text class="tk" x="125.70" y="531.5" text-anchor="middle">20:00</text>
<line x1="215.55" x2="215.55" y1="522.2" y2="524.6" stroke="#333" stroke-width="0.9"/>
<text class="tk" x="215.55" y="531.5" text-anchor="middle">20:15</text>
<line x1="305.40" x2="305.40" y1="522.2" y2="524.6" stroke="#333" stroke-width="0.9"/>
<text class="tk" x="305.40" y="531.5" text-anchor="middle">20:30</text>
<line x1="395.25" x2="395.25" y1="522.2" y2="524.6" stroke="#333" stroke-width="0.9"/>
<text class="tk" x="395.25" y="531.5" text-anchor="middle">20:45</text>
<text class="ti" x="254.6" y="544.2" text-anchor="middle">Time [UTC]</text>
<text class="ti" x="498.3" y="35.9">Z</text>
<defs><linearGradient id="gz" x1="0" y1="0" x2="0" y2="1"><stop offset="0.0000" stop-color="#ff2408"/><stop offset="0.0250" stop-color="#ff4c06"/><stop offset="0.0500" stop-color="#fd6704"/><stop offset="0.0750" stop-color="#fc7d02"/><stop offset="0.1000" stop-color="#f99101"/><stop offset="0.1250" stop-color="#f6a300"/><stop offset="0.1500" stop-color="#f2b500"/><stop offset="0.1750" stop-color="#edc601"/><stop offset="0.2000" stop-color="#e8d702"/><stop offset="0.2250" stop-color="#e0e805"/><stop offset="0.2500" stop-color="#d8f808"/><stop offset="0.2750" stop-color="#cdf91e"/><stop offset="0.3000" stop-color="#c2fa2b"/><stop offset="0.3250" stop-color="#b5fb35"/><stop offset="0.3500" stop-color="#a9fc3e"/><stop offset="0.3750" stop-color="#9bfc46"/><stop offset="0.4000" stop-color="#8cfd4d"/><stop offset="0.4250" stop-color="#7bfe54"/><stop offset="0.4500" stop-color="#67fe5a"/><stop offset="0.4750" stop-color="#4dff60"/><stop offset="0.5000" stop-color="#22ff66"/><stop offset="0.5250" stop-color="#46ef7a"/><stop offset="0.5500" stop-color="#58e08c"/><stop offset="0.5750" stop-color="#62d09d"/><stop offset="0.6000" stop-color="#68c0ac"/><stop offset="0.6250" stop-color="#69b1bb"/><stop offset="0.6500" stop-color="#67a1c9"/><stop offset="0.6750" stop-color="#6292d7"/><stop offset="0.7000" stop-color="#5882e4"/><stop offset="0.7250" stop-color="#4972f2"/><stop offset="0.7500" stop-color="#2b62ff"/><stop offset="0.7750" stop-color="#4b5ffe"/><stop offset="0.8000" stop-color="#605bfe"/><stop offset="0.8250" stop-color="#7257fd"/><stop offset="0.8500" stop-color="#8152fd"/><stop offset="0.8750" stop-color="#8f4dfc"/><stop offset="0.9000" stop-color="#9c47fc"/><stop offset="0.9250" stop-color="#a740fb"/><stop offset="0.9500" stop-color="#b338fb"/><stop offset="0.9750" stop-color="#be2dfa"/><stop offset="1.0000" stop-color="#c81efa"/></linearGradient></defs>
<rect x="498.3" y="41.7" width="14.6" height="72.9" fill="url(#gz)"/>
<line x1="498.3" x2="501.3" y1="46.0" y2="46.0" stroke="#fff" stroke-opacity=".5" stroke-width="0.5"/>
<line x1="509.9" x2="512.9" y1="46.0" y2="46.0" stroke="#fff" stroke-opacity=".5" stroke-width="0.5"/>
<text class="tk" x="517.8" y="48.65">50</text>
<line x1="498.3" x2="501.3" y1="58.7" y2="58.7" stroke="#fff" stroke-opacity=".5" stroke-width="0.5"/>
<line x1="509.9" x2="512.9" y1="58.7" y2="58.7" stroke="#fff" stroke-opacity=".5" stroke-width="0.5"/>
<text class="tk" x="517.8" y="61.35">40</text>
<line x1="498.3" x2="501.3" y1="71.5" y2="71.5" stroke="#fff" stroke-opacity=".5" stroke-width="0.5"/>
<line x1="509.9" x2="512.9" y1="71.5" y2="71.5" stroke="#fff" stroke-opacity=".5" stroke-width="0.5"/>
<text class="tk" x="517.8" y="74.15">30</text>
<line x1="498.3" x2="501.3" y1="84.3" y2="84.3" stroke="#fff" stroke-opacity=".5" stroke-width="0.5"/>
<line x1="509.9" x2="512.9" y1="84.3" y2="84.3" stroke="#fff" stroke-opacity=".5" stroke-width="0.5"/>
<text class="tk" x="517.8" y="86.95">20</text>
<line x1="498.3" x2="501.3" y1="97.1" y2="97.1" stroke="#fff" stroke-opacity=".5" stroke-width="0.5"/>
<line x1="509.9" x2="512.9" y1="97.1" y2="97.1" stroke="#fff" stroke-opacity=".5" stroke-width="0.5"/>
<text class="tk" x="517.8" y="99.75">10</text>
<line x1="498.3" x2="501.3" y1="109.9" y2="109.9" stroke="#fff" stroke-opacity=".5" stroke-width="0.5"/>
<line x1="509.9" x2="512.9" y1="109.9" y2="109.9" stroke="#fff" stroke-opacity=".5" stroke-width="0.5"/>
<text class="tk" x="517.8" y="112.55">0</text>
<text class="ti" x="498.3" y="180.9">W</text>
<defs><linearGradient id="gw" x1="0" y1="0" x2="0" y2="1"><stop offset="0.0000" stop-color="#ff2408"/><stop offset="0.0250" stop-color="#ff4c06"/><stop offset="0.0500" stop-color="#fd6704"/><stop offset="0.0750" stop-color="#fc7d02"/><stop offset="0.1000" stop-color="#f99101"/><stop offset="0.1250" stop-color="#f6a300"/><stop offset="0.1500" stop-color="#f2b500"/><stop offset="0.1750" stop-color="#edc601"/><stop offset="0.2000" stop-color="#e8d702"/><stop offset="0.2250" stop-color="#e0e805"/><stop offset="0.2500" stop-color="#d8f808"/><stop offset="0.2750" stop-color="#cdf91e"/><stop offset="0.3000" stop-color="#c2fa2b"/><stop offset="0.3250" stop-color="#b5fb35"/><stop offset="0.3500" stop-color="#a9fc3e"/><stop offset="0.3750" stop-color="#9bfc46"/><stop offset="0.4000" stop-color="#8cfd4d"/><stop offset="0.4250" stop-color="#7bfe54"/><stop offset="0.4500" stop-color="#67fe5a"/><stop offset="0.4750" stop-color="#4dff60"/><stop offset="0.5000" stop-color="#22ff66"/><stop offset="0.5250" stop-color="#46ef7a"/><stop offset="0.5500" stop-color="#58e08c"/><stop offset="0.5750" stop-color="#62d09d"/><stop offset="0.6000" stop-color="#68c0ac"/><stop offset="0.6250" stop-color="#69b1bb"/><stop offset="0.6500" stop-color="#67a1c9"/><stop offset="0.6750" stop-color="#6292d7"/><stop offset="0.7000" stop-color="#5882e4"/><stop offset="0.7250" stop-color="#4972f2"/><stop offset="0.7500" stop-color="#2b62ff"/><stop offset="0.7750" stop-color="#4b5ffe"/><stop offset="0.8000" stop-color="#605bfe"/><stop offset="0.8250" stop-color="#7257fd"/><stop offset="0.8500" stop-color="#8152fd"/><stop offset="0.8750" stop-color="#8f4dfc"/><stop offset="0.9000" stop-color="#9c47fc"/><stop offset="0.9250" stop-color="#a740fb"/><stop offset="0.9500" stop-color="#b338fb"/><stop offset="0.9750" stop-color="#be2dfa"/><stop offset="1.0000" stop-color="#c81efa"/></linearGradient></defs>
<rect x="498.3" y="186.7" width="14.6" height="72.9" fill="url(#gw)"/>
<line x1="498.3" x2="501.3" y1="205.6" y2="205.6" stroke="#fff" stroke-opacity=".5" stroke-width="0.5"/>
<line x1="509.9" x2="512.9" y1="205.6" y2="205.6" stroke="#fff" stroke-opacity=".5" stroke-width="0.5"/>
<text class="tk" x="517.8" y="208.25">10</text>
<line x1="498.3" x2="501.3" y1="226.6" y2="226.6" stroke="#fff" stroke-opacity=".5" stroke-width="0.5"/>
<line x1="509.9" x2="512.9" y1="226.6" y2="226.6" stroke="#fff" stroke-opacity=".5" stroke-width="0.5"/>
<text class="tk" x="517.8" y="229.25">5</text>
<line x1="498.3" x2="501.3" y1="247.5" y2="247.5" stroke="#fff" stroke-opacity=".5" stroke-width="0.5"/>
<line x1="509.9" x2="512.9" y1="247.5" y2="247.5" stroke="#fff" stroke-opacity=".5" stroke-width="0.5"/>
<text class="tk" x="517.8" y="250.15">0</text>
<text class="ti" x="500.4" y="325.9">SW</text>
<defs><linearGradient id="gs" x1="0" y1="0" x2="0" y2="1"><stop offset="0.0000" stop-color="#ff2408"/><stop offset="0.0250" stop-color="#ff4c06"/><stop offset="0.0500" stop-color="#fd6704"/><stop offset="0.0750" stop-color="#fc7d02"/><stop offset="0.1000" stop-color="#f99101"/><stop offset="0.1250" stop-color="#f6a300"/><stop offset="0.1500" stop-color="#f2b500"/><stop offset="0.1750" stop-color="#edc601"/><stop offset="0.2000" stop-color="#e8d702"/><stop offset="0.2250" stop-color="#e0e805"/><stop offset="0.2500" stop-color="#d8f808"/><stop offset="0.2750" stop-color="#cdf91e"/><stop offset="0.3000" stop-color="#c2fa2b"/><stop offset="0.3250" stop-color="#b5fb35"/><stop offset="0.3500" stop-color="#a9fc3e"/><stop offset="0.3750" stop-color="#9bfc46"/><stop offset="0.4000" stop-color="#8cfd4d"/><stop offset="0.4250" stop-color="#7bfe54"/><stop offset="0.4500" stop-color="#67fe5a"/><stop offset="0.4750" stop-color="#4dff60"/><stop offset="0.5000" stop-color="#22ff66"/><stop offset="0.5250" stop-color="#46ef7a"/><stop offset="0.5500" stop-color="#58e08c"/><stop offset="0.5750" stop-color="#62d09d"/><stop offset="0.6000" stop-color="#68c0ac"/><stop offset="0.6250" stop-color="#69b1bb"/><stop offset="0.6500" stop-color="#67a1c9"/><stop offset="0.6750" stop-color="#6292d7"/><stop offset="0.7000" stop-color="#5882e4"/><stop offset="0.7250" stop-color="#4972f2"/><stop offset="0.7500" stop-color="#2b62ff"/><stop offset="0.7750" stop-color="#4b5ffe"/><stop offset="0.8000" stop-color="#605bfe"/><stop offset="0.8250" stop-color="#7257fd"/><stop offset="0.8500" stop-color="#8152fd"/><stop offset="0.8750" stop-color="#8f4dfc"/><stop offset="0.9000" stop-color="#9c47fc"/><stop offset="0.9250" stop-color="#a740fb"/><stop offset="0.9500" stop-color="#b338fb"/><stop offset="0.9750" stop-color="#be2dfa"/><stop offset="1.0000" stop-color="#c81efa"/></linearGradient></defs>
<rect x="500.4" y="331.7" width="14.6" height="72.9" fill="url(#gs)"/>
<line x1="500.4" x2="503.4" y1="339.4" y2="339.4" stroke="#fff" stroke-opacity=".5" stroke-width="0.5"/>
<line x1="512.0" x2="515.0" y1="339.4" y2="339.4" stroke="#fff" stroke-opacity=".5" stroke-width="0.5"/>
<text class="tk" x="519.9" y="342.05">8</text>
<line x1="500.4" x2="503.4" y1="356.3" y2="356.3" stroke="#fff" stroke-opacity=".5" stroke-width="0.5"/>
<line x1="512.0" x2="515.0" y1="356.3" y2="356.3" stroke="#fff" stroke-opacity=".5" stroke-width="0.5"/>
<text class="tk" x="519.9" y="358.95">6</text>
<line x1="500.4" x2="503.4" y1="373.1" y2="373.1" stroke="#fff" stroke-opacity=".5" stroke-width="0.5"/>
<line x1="512.0" x2="515.0" y1="373.1" y2="373.1" stroke="#fff" stroke-opacity=".5" stroke-width="0.5"/>
<text class="tk" x="519.9" y="375.75">4</text>
<line x1="500.4" x2="503.4" y1="389.9" y2="389.9" stroke="#fff" stroke-opacity=".5" stroke-width="0.5"/>
<line x1="512.0" x2="515.0" y1="389.9" y2="389.9" stroke="#fff" stroke-opacity=".5" stroke-width="0.5"/>
<text class="tk" x="519.9" y="392.55">2</text>
<text class="ti" x="482.8" y="446.1">Prediction</text>
<path d="M488.1 457.5l3.2 3.2m0 -3.2l-3.2 3.2" stroke="#e01010" stroke-width="1.3" fill="none"/>
<text class="lg" x="501.9" y="461.9">FALSE</text>
<text class="ti" x="482.8" y="492.8">BR09</text>
<path d="M489.7 502.4l2.6 4.5h-5.2z" fill="#7a7a7a" stroke="#333" stroke-width="0.8"/>
<text class="lg" x="501.9" y="508.3">Convective</text>
<circle cx="489.6" cy="520.1" r="2.3" fill="#fff" stroke="#444" stroke-width="0.75"/>
<text class="lg" x="501.9" y="522.8">Stratiform</text>
</svg></body></html>
